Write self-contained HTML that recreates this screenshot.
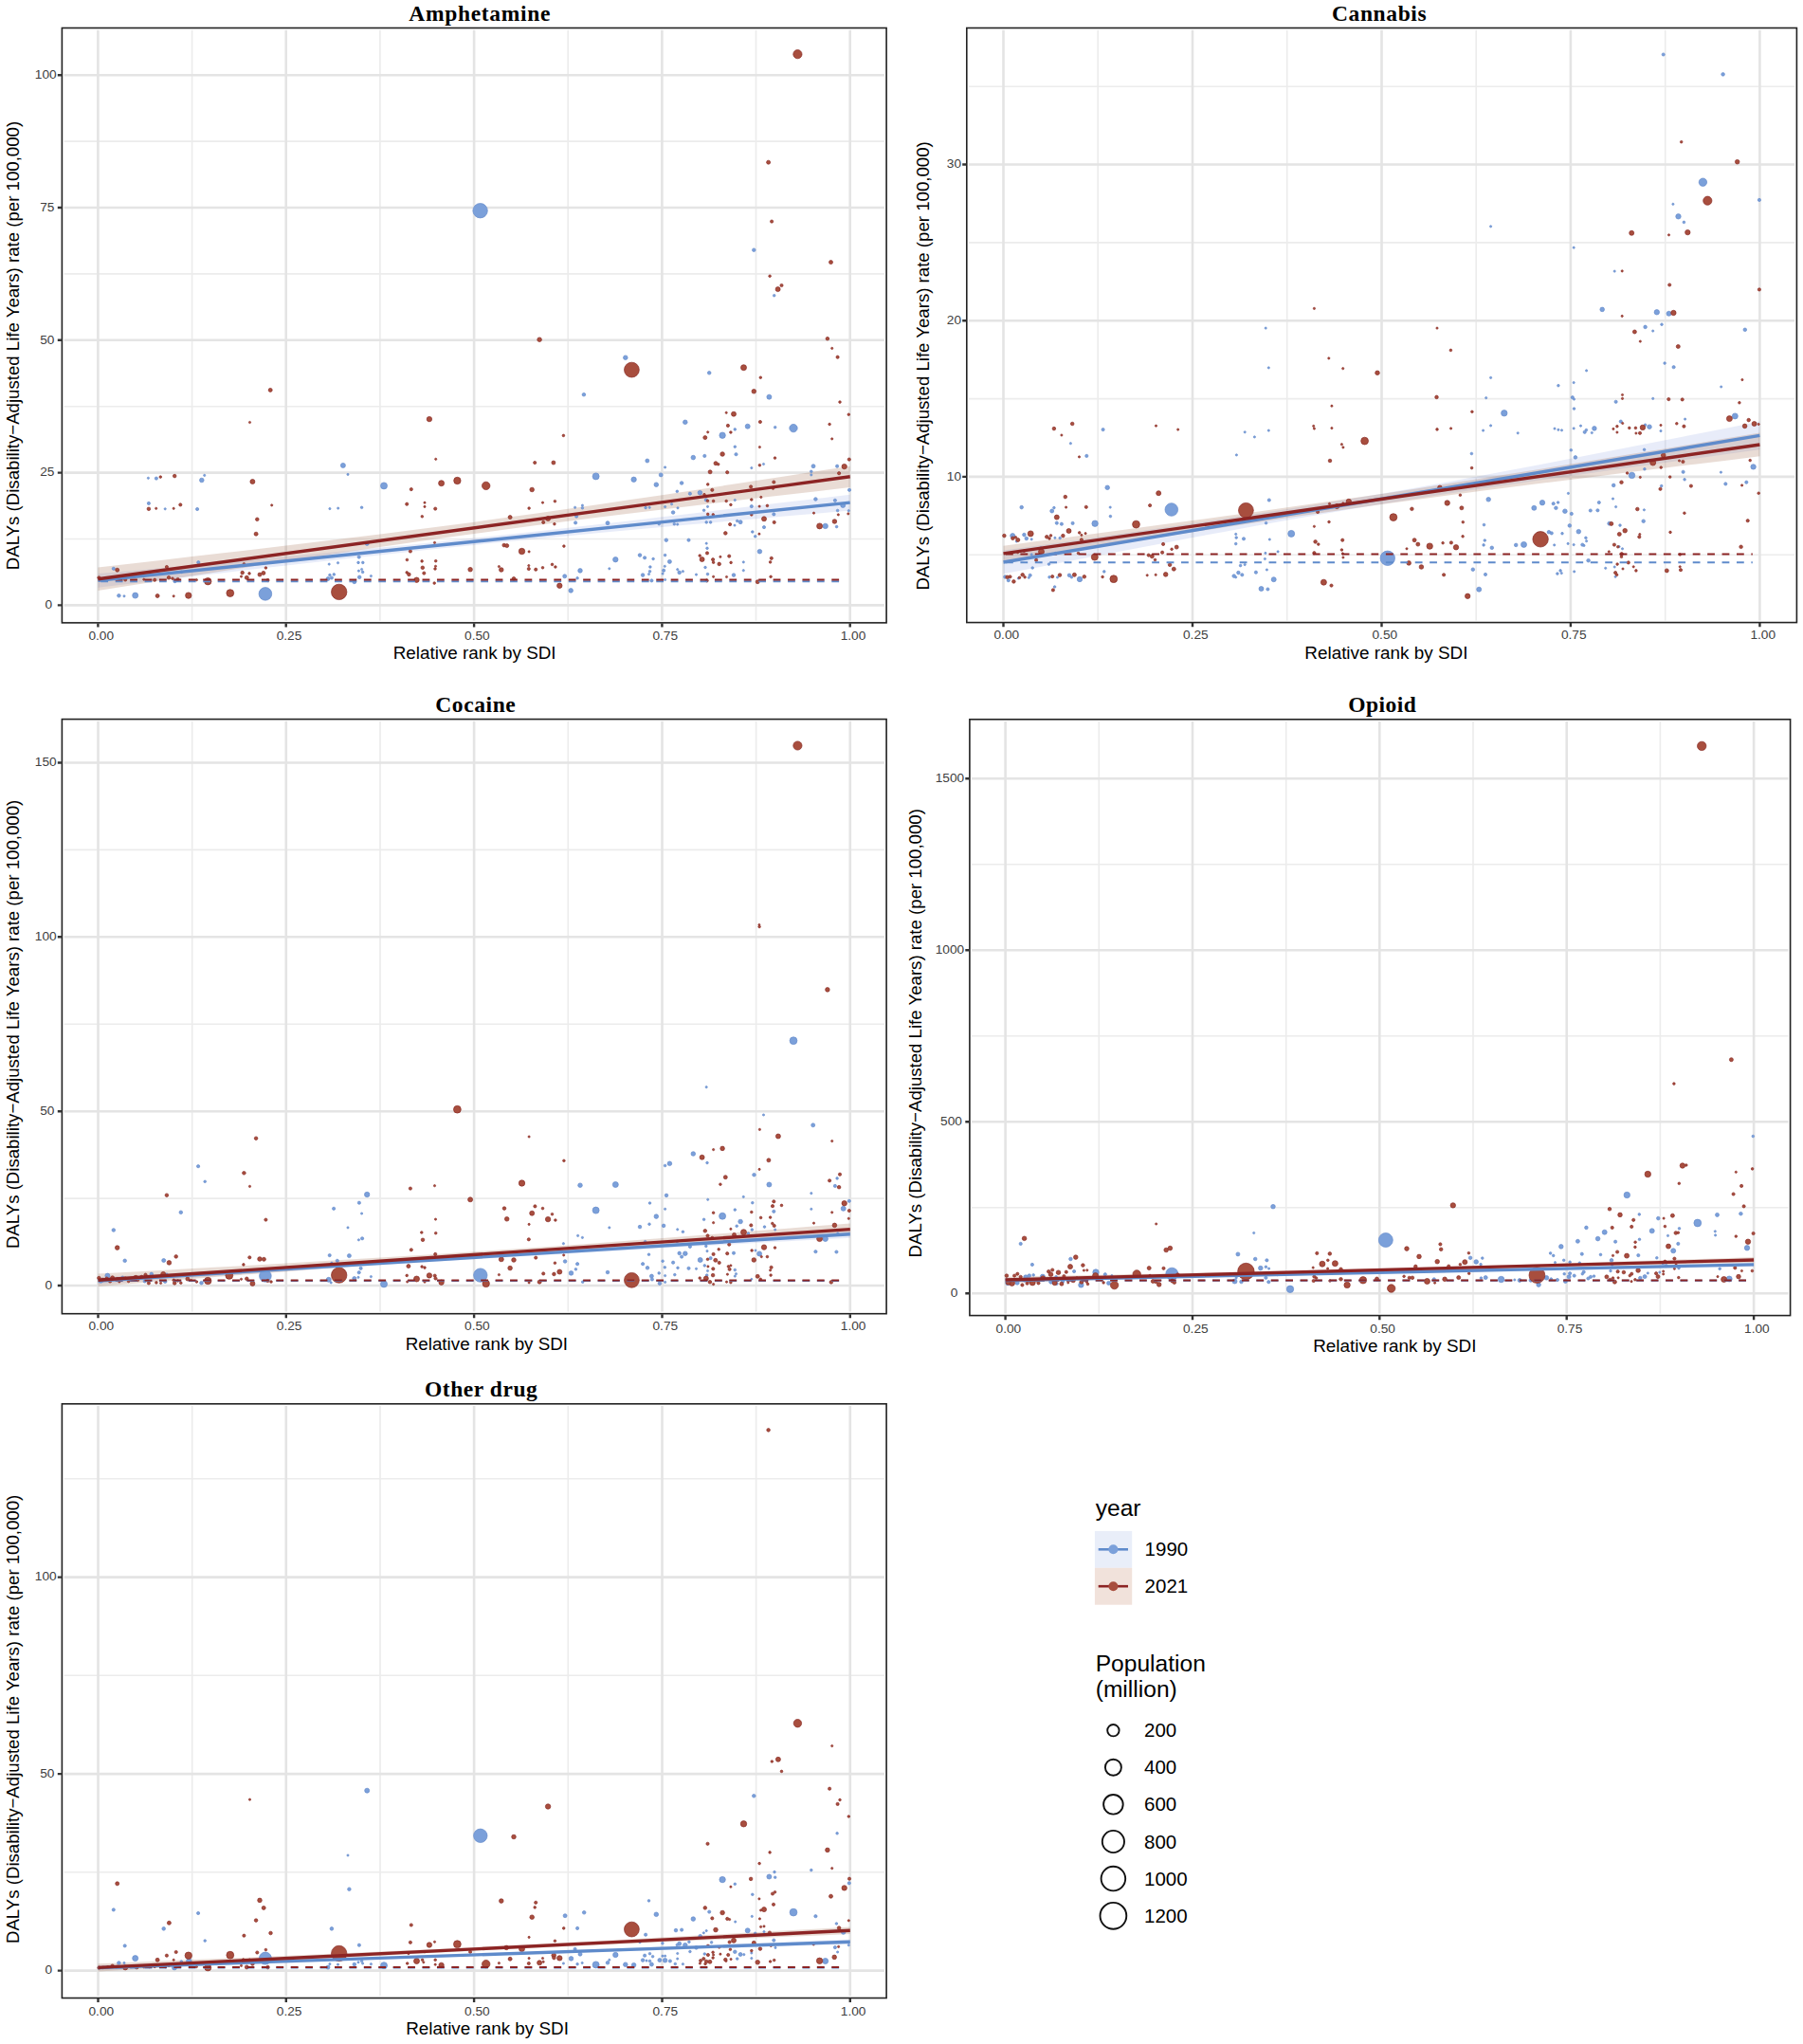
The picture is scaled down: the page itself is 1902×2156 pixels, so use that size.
<!DOCTYPE html>
<html lang="en"><head><meta charset="utf-8"><title>DALYs rate by SDI rank</title>
<style>html,body{margin:0;padding:0;background:#fff}body{width:1902px;height:2156px;overflow:hidden}svg{display:block;font-family:"Liberation Sans",sans-serif}</style>
</head><body>
<svg width="1902" height="2156" viewBox="0 0 1902 2156">
<rect width="1902" height="2156" fill="#fff"/>
<g id="panel1">
<path d="M67.6 568.5H932.9M67.6 428.7H932.9M67.6 288.9H932.9M67.6 149.1H932.9M202.6 31.7V654.7M400.9 31.7V654.7M599.2 31.7V654.7M797.5 31.7V654.7" stroke="#ececec" stroke-width="1.6" fill="none"/>
<path d="M67.6 638.4H932.9M67.6 498.6H932.9M67.6 358.8H932.9M67.6 219H932.9M67.6 79.2H932.9M103.4 31.7V654.7M301.7 31.7V654.7M500.1 31.7V654.7M698.4 31.7V654.7M896.7 31.7V654.7" stroke="#e4e4e4" stroke-width="2.6" fill="none"/>
<path d="M103.4 605.1L136.5 602.2L169.5 599.2L202.6 596.2L235.6 593.2L268.7 590.2L301.7 587.1L334.8 584L367.8 580.9L400.9 577.6L433.9 574.4L467 571L500.1 567.6L533.1 564.1L566.2 560.4L599.2 556.7L632.3 553L665.3 549.2L698.4 545.3L731.4 541.4L764.5 537.5L797.5 533.6L830.6 529.6L863.6 525.7L896.7 521.7L896.7 538.5L863.6 541.4L830.6 544.3L797.5 547.2L764.5 550.1L731.4 553L698.4 556L665.3 559L632.3 562.1L599.2 565.2L566.2 568.3L533.1 571.6L500.1 574.9L467 578.3L433.9 581.8L400.9 585.4L367.8 589.1L334.8 592.8L301.7 596.5L268.7 600.3L235.6 604.2L202.6 608L169.5 611.9L136.5 615.8L103.4 619.7Z" fill="#4d6fd0" fill-opacity="0.13"/>
<path d="M103.4 598.5L136.5 594.7L169.5 590.9L202.6 587.1L235.6 583.3L268.7 579.5L301.7 575.6L334.8 571.6L367.8 567.6L400.9 563.5L433.9 559.3L467 555.1L500.1 550.7L533.1 546.1L566.2 541.5L599.2 536.8L632.3 532L665.3 527.1L698.4 522.2L731.4 517.2L764.5 512.1L797.5 507.1L830.6 502L863.6 496.8L896.7 491.7L896.7 514L863.6 517.9L830.6 521.7L797.5 525.6L764.5 529.5L731.4 533.5L698.4 537.5L665.3 541.5L632.3 545.6L599.2 549.8L566.2 554.1L533.1 558.5L500.1 563L467 567.6L433.9 572.3L400.9 577.1L367.8 582L334.8 587L301.7 592L268.7 597.1L235.6 602.3L202.6 607.4L169.5 612.6L136.5 617.8L103.4 623.1Z" fill="#a0664a" fill-opacity="0.23"/>
<g fill="#7ba0da" stroke="#678dcb" stroke-width="0.7">
<circle cx="361.9" cy="490.9" r="2.5"/>
<circle cx="367" cy="500.4" r="1.1"/>
<circle cx="156.4" cy="504.3" r="1.1"/>
<circle cx="164.9" cy="504.6" r="1.6"/>
<circle cx="215.7" cy="501.4" r="1.1"/>
<circle cx="212.8" cy="506.5" r="2.3"/>
<circle cx="405" cy="512.4" r="3.5"/>
<circle cx="156.9" cy="530.9" r="1.6"/>
<circle cx="174.2" cy="536.8" r="1.1"/>
<circle cx="208.1" cy="537" r="1.6"/>
<circle cx="347.9" cy="536.6" r="1.1"/>
<circle cx="356.7" cy="536.1" r="1.1"/>
<circle cx="381.6" cy="535.3" r="1.3"/>
<circle cx="387.2" cy="573.4" r="2.0"/>
<circle cx="378.7" cy="587.6" r="1.6"/>
<circle cx="209.3" cy="593.2" r="1.6"/>
<circle cx="347.2" cy="595.1" r="1.1"/>
<circle cx="356.5" cy="593.7" r="1.1"/>
<circle cx="378" cy="593.4" r="1.3"/>
<circle cx="382.8" cy="593.4" r="1.3"/>
<circle cx="119.8" cy="599.8" r="1.6"/>
<circle cx="381.6" cy="600.5" r="1.1"/>
<circle cx="378.4" cy="602.2" r="1.1"/>
<circle cx="382.6" cy="603.4" r="1.3"/>
<circle cx="191.3" cy="603.4" r="1.3"/>
<circle cx="347.9" cy="606.6" r="1.3"/>
<circle cx="352.3" cy="605.9" r="1.3"/>
<circle cx="391.4" cy="607.6" r="1.1"/>
<circle cx="379.2" cy="608.8" r="1.8"/>
<circle cx="346" cy="610.5" r="2.0"/>
<circle cx="349.9" cy="609.5" r="1.6"/>
<circle cx="373.8" cy="613.7" r="2.0"/>
<circle cx="184.5" cy="612.9" r="1.8"/>
<circle cx="125.4" cy="628.3" r="1.8"/>
<circle cx="131" cy="628.8" r="1.1"/>
<circle cx="142.7" cy="628.1" r="3.0"/>
<circle cx="279.9" cy="626.4" r="6.8"/>
<circle cx="659.8" cy="377.2" r="2.3"/>
<circle cx="748.2" cy="393.3" r="1.8"/>
<circle cx="615.9" cy="416.2" r="1.8"/>
<circle cx="811.4" cy="418.7" r="2.5"/>
<circle cx="722.8" cy="445.3" r="2.3"/>
<circle cx="788.7" cy="449.7" r="2.5"/>
<circle cx="817.7" cy="450.7" r="1.3"/>
<circle cx="837" cy="451.6" r="4.2"/>
<circle cx="775.3" cy="452.9" r="1.3"/>
<circle cx="762.1" cy="459.2" r="3.2"/>
<circle cx="775.3" cy="471.2" r="1.3"/>
<circle cx="776.5" cy="479.2" r="1.6"/>
<circle cx="743.3" cy="480.9" r="1.6"/>
<circle cx="731.3" cy="482.6" r="2.3"/>
<circle cx="682.8" cy="486" r="2.0"/>
<circle cx="805.5" cy="489.5" r="1.1"/>
<circle cx="701.6" cy="492.9" r="1.1"/>
<circle cx="792.8" cy="493.6" r="1.1"/>
<circle cx="858" cy="491.7" r="2.0"/>
<circle cx="883.1" cy="491.7" r="1.6"/>
<circle cx="855.8" cy="497.3" r="1.3"/>
<circle cx="855.8" cy="500.9" r="1.1"/>
<circle cx="697.2" cy="500.9" r="2.0"/>
<circle cx="628.6" cy="502.4" r="3.5"/>
<circle cx="668.6" cy="505.8" r="2.7"/>
<circle cx="719.1" cy="509.5" r="1.8"/>
<circle cx="692.3" cy="511.2" r="2.3"/>
<circle cx="714.3" cy="518.3" r="1.3"/>
<circle cx="896" cy="516.8" r="1.6"/>
<circle cx="727.9" cy="520.7" r="1.6"/>
<circle cx="738.4" cy="519.7" r="2.3"/>
<circle cx="860.4" cy="526.5" r="1.8"/>
<circle cx="880.9" cy="527.8" r="1.6"/>
<circle cx="744.8" cy="527.3" r="1.6"/>
<circle cx="775.3" cy="527.5" r="1.1"/>
<circle cx="708.6" cy="531.7" r="1.1"/>
<circle cx="792.8" cy="534.1" r="1.6"/>
<circle cx="889.2" cy="532.9" r="2.5"/>
<circle cx="606.6" cy="535.3" r="1.1"/>
<circle cx="614.4" cy="533.1" r="1.1"/>
<circle cx="614.4" cy="535.8" r="1.3"/>
<circle cx="681.1" cy="535.6" r="1.3"/>
<circle cx="685.2" cy="535.3" r="1.1"/>
<circle cx="701.6" cy="534.6" r="1.1"/>
<circle cx="715" cy="535.8" r="1.1"/>
<circle cx="742.6" cy="538.3" r="1.3"/>
<circle cx="746.5" cy="534.4" r="1.1"/>
<circle cx="883.6" cy="538.5" r="1.3"/>
<circle cx="895.3" cy="538.7" r="1.1"/>
<circle cx="710.1" cy="540.5" r="1.8"/>
<circle cx="816.3" cy="542.4" r="1.6"/>
<circle cx="608.1" cy="544.6" r="1.6"/>
<circle cx="607.1" cy="551.4" r="1.6"/>
<circle cx="641" cy="551.7" r="2.0"/>
<circle cx="695.2" cy="552.7" r="1.3"/>
<circle cx="711.3" cy="552.7" r="1.3"/>
<circle cx="714.7" cy="553.1" r="1.1"/>
<circle cx="745.2" cy="550.9" r="1.3"/>
<circle cx="749.6" cy="550.9" r="1.3"/>
<circle cx="777.7" cy="549.5" r="1.3"/>
<circle cx="781.1" cy="550.7" r="2.0"/>
<circle cx="775" cy="554.1" r="1.1"/>
<circle cx="870.7" cy="554.9" r="2.7"/>
<circle cx="882.6" cy="555.6" r="1.3"/>
<circle cx="806" cy="556.1" r="1.6"/>
<circle cx="793.8" cy="561" r="1.3"/>
<circle cx="796.7" cy="565.8" r="1.3"/>
<circle cx="702.8" cy="569.7" r="1.8"/>
<circle cx="726.5" cy="569.7" r="1.6"/>
<circle cx="745.2" cy="573.2" r="1.1"/>
<circle cx="746" cy="578.3" r="1.3"/>
<circle cx="801.4" cy="581.7" r="2.3"/>
<circle cx="675" cy="585.6" r="1.8"/>
<circle cx="701.6" cy="585.6" r="1.3"/>
<circle cx="680.1" cy="588.3" r="1.6"/>
<circle cx="689.1" cy="589.5" r="1.3"/>
<circle cx="649.3" cy="590.2" r="2.7"/>
<circle cx="706.4" cy="592.4" r="2.0"/>
<circle cx="784.3" cy="592.9" r="1.1"/>
<circle cx="685.9" cy="598" r="1.3"/>
<circle cx="701.3" cy="597.3" r="1.1"/>
<circle cx="744" cy="598.5" r="1.3"/>
<circle cx="642.8" cy="599.8" r="1.1"/>
<circle cx="612" cy="601.9" r="2.3"/>
<circle cx="714.7" cy="600.7" r="1.1"/>
<circle cx="700.1" cy="601.7" r="1.6"/>
<circle cx="685.5" cy="602.7" r="1.3"/>
<circle cx="720.4" cy="602.7" r="1.1"/>
<circle cx="716.7" cy="603.9" r="1.8"/>
<circle cx="784.3" cy="601.7" r="1.1"/>
<circle cx="678.1" cy="606.6" r="1.8"/>
<circle cx="684.5" cy="605.6" r="1.1"/>
<circle cx="699.1" cy="605.1" r="1.1"/>
<circle cx="734.5" cy="606.1" r="1.1"/>
<circle cx="746.5" cy="605.6" r="1.3"/>
<circle cx="774" cy="606.6" r="1.8"/>
<circle cx="595.7" cy="607.8" r="2.0"/>
<circle cx="609.1" cy="609.8" r="1.3"/>
<circle cx="687.4" cy="612.4" r="1.6"/>
<circle cx="701.6" cy="611.5" r="1.1"/>
<circle cx="602.2" cy="622.9" r="2.3"/>
<circle cx="506.6" cy="222.2" r="7.7"/>
<circle cx="795.3" cy="263.7" r="1.8"/>
<circle cx="816.7" cy="311.7" r="1.3"/>
</g>
<g fill="#a84e3e" stroke="#8a2d26" stroke-width="0.7">
<circle cx="285.2" cy="411.4" r="2.0"/>
<circle cx="263.5" cy="445.5" r="1.1"/>
<circle cx="452.9" cy="442.1" r="2.7"/>
<circle cx="459.7" cy="484.3" r="1.1"/>
<circle cx="169.3" cy="503.1" r="1.3"/>
<circle cx="184.2" cy="502.1" r="1.8"/>
<circle cx="266.4" cy="508" r="2.5"/>
<circle cx="465.6" cy="509.7" r="3.0"/>
<circle cx="482.4" cy="507" r="3.7"/>
<circle cx="433.8" cy="516.1" r="1.6"/>
<circle cx="156.9" cy="536.8" r="1.8"/>
<circle cx="164.7" cy="536.3" r="1.1"/>
<circle cx="183.2" cy="536.3" r="1.1"/>
<circle cx="190.3" cy="532.4" r="1.6"/>
<circle cx="286.7" cy="532.9" r="1.1"/>
<circle cx="429.2" cy="531.7" r="1.6"/>
<circle cx="448" cy="530.2" r="1.1"/>
<circle cx="448" cy="534.4" r="1.1"/>
<circle cx="459.2" cy="536.6" r="1.6"/>
<circle cx="445.3" cy="544.8" r="1.3"/>
<circle cx="271.3" cy="547.8" r="1.8"/>
<circle cx="270.1" cy="563.2" r="2.0"/>
<circle cx="458.5" cy="572.4" r="1.1"/>
<circle cx="432.9" cy="581.5" r="1.6"/>
<circle cx="429.4" cy="590.5" r="1.3"/>
<circle cx="445.1" cy="591.9" r="1.3"/>
<circle cx="459.7" cy="591.7" r="1.3"/>
<circle cx="257.4" cy="594.9" r="1.3"/>
<circle cx="175.9" cy="598" r="1.6"/>
<circle cx="123.7" cy="601.2" r="2.0"/>
<circle cx="280.4" cy="599" r="1.3"/>
<circle cx="445.8" cy="598.8" r="1.8"/>
<circle cx="459.5" cy="597.3" r="1.1"/>
<circle cx="459" cy="600" r="1.3"/>
<circle cx="496.1" cy="600.7" r="2.3"/>
<circle cx="255.7" cy="604.1" r="1.8"/>
<circle cx="263" cy="604.9" r="1.3"/>
<circle cx="277.9" cy="604.4" r="2.0"/>
<circle cx="274" cy="606.1" r="2.0"/>
<circle cx="429.2" cy="603.9" r="1.3"/>
<circle cx="431.4" cy="605.9" r="1.8"/>
<circle cx="447.3" cy="604.6" r="1.6"/>
<circle cx="254.5" cy="608.1" r="1.1"/>
<circle cx="260.3" cy="609.3" r="2.0"/>
<circle cx="104.4" cy="609.3" r="1.6"/>
<circle cx="118.6" cy="610" r="1.3"/>
<circle cx="132.2" cy="611.5" r="1.6"/>
<circle cx="151.8" cy="611.2" r="1.1"/>
<circle cx="163.2" cy="611.7" r="1.6"/>
<circle cx="178.1" cy="609.3" r="1.8"/>
<circle cx="182" cy="610.2" r="1.3"/>
<circle cx="187.6" cy="611" r="1.6"/>
<circle cx="207.4" cy="611.7" r="1.1"/>
<circle cx="219.3" cy="613.2" r="3.7"/>
<circle cx="282.5" cy="612" r="1.6"/>
<circle cx="439.5" cy="611.7" r="2.7"/>
<circle cx="458.2" cy="615.1" r="1.3"/>
<circle cx="166.1" cy="628.5" r="2.0"/>
<circle cx="183.2" cy="628.8" r="1.1"/>
<circle cx="198.8" cy="628.1" r="3.2"/>
<circle cx="242.8" cy="625.6" r="3.9"/>
<circle cx="357.7" cy="624.4" r="8.2"/>
<circle cx="569.1" cy="358.2" r="2.3"/>
<circle cx="872.9" cy="357.2" r="1.8"/>
<circle cx="877.7" cy="367.4" r="1.1"/>
<circle cx="883.6" cy="376.7" r="1.6"/>
<circle cx="666.4" cy="390.1" r="7.9"/>
<circle cx="784.5" cy="387.7" r="3.0"/>
<circle cx="802.3" cy="398.2" r="1.3"/>
<circle cx="795.3" cy="412.8" r="2.3"/>
<circle cx="886" cy="424.1" r="1.3"/>
<circle cx="766.2" cy="435.3" r="1.1"/>
<circle cx="774" cy="436.7" r="2.5"/>
<circle cx="895.3" cy="437.2" r="1.3"/>
<circle cx="801.9" cy="445" r="1.6"/>
<circle cx="767.9" cy="448.9" r="1.6"/>
<circle cx="875.1" cy="447.5" r="1.3"/>
<circle cx="746.7" cy="455.8" r="1.1"/>
<circle cx="770.9" cy="456" r="1.3"/>
<circle cx="594.4" cy="459.4" r="1.3"/>
<circle cx="743.8" cy="461.6" r="2.0"/>
<circle cx="877.7" cy="462.9" r="1.1"/>
<circle cx="801.4" cy="471.6" r="1.1"/>
<circle cx="762.1" cy="479" r="2.3"/>
<circle cx="817.5" cy="483.1" r="1.3"/>
<circle cx="895.8" cy="484.6" r="1.6"/>
<circle cx="564.2" cy="488" r="1.6"/>
<circle cx="583.9" cy="488" r="2.0"/>
<circle cx="755" cy="488.7" r="2.0"/>
<circle cx="757.7" cy="489.7" r="1.3"/>
<circle cx="801.4" cy="490.7" r="1.3"/>
<circle cx="890.7" cy="492.1" r="2.7"/>
<circle cx="885.1" cy="499.2" r="1.6"/>
<circle cx="749.1" cy="497.8" r="2.0"/>
<circle cx="767.2" cy="498.2" r="1.6"/>
<circle cx="816.3" cy="508.5" r="1.6"/>
<circle cx="746.7" cy="510.9" r="1.3"/>
<circle cx="512.7" cy="512.4" r="4.2"/>
<circle cx="561.2" cy="516.5" r="2.3"/>
<circle cx="751.3" cy="516.8" r="1.6"/>
<circle cx="792.1" cy="513.4" r="1.6"/>
<circle cx="815.5" cy="515.1" r="1.3"/>
<circle cx="743" cy="521.7" r="1.3"/>
<circle cx="802.8" cy="524.4" r="1.1"/>
<circle cx="792.8" cy="527" r="1.3"/>
<circle cx="746.5" cy="528.3" r="1.3"/>
<circle cx="752.6" cy="528.5" r="1.3"/>
<circle cx="766.2" cy="528.5" r="1.3"/>
<circle cx="572.5" cy="530.2" r="1.1"/>
<circle cx="585.4" cy="528.7" r="1.3"/>
<circle cx="770.9" cy="532.4" r="1.3"/>
<circle cx="809.4" cy="533.4" r="1.3"/>
<circle cx="801.1" cy="534.1" r="1.1"/>
<circle cx="558.1" cy="536.1" r="1.3"/>
<circle cx="746.7" cy="542.4" r="1.3"/>
<circle cx="752.3" cy="542.9" r="1.3"/>
<circle cx="792.8" cy="542.9" r="1.3"/>
<circle cx="858.5" cy="541.2" r="1.1"/>
<circle cx="884.3" cy="542.9" r="1.1"/>
<circle cx="894.8" cy="541.9" r="1.1"/>
<circle cx="538.1" cy="545.6" r="2.0"/>
<circle cx="578.1" cy="547" r="2.5"/>
<circle cx="573.2" cy="550.9" r="1.6"/>
<circle cx="584.9" cy="552.7" r="1.3"/>
<circle cx="806" cy="547.3" r="2.5"/>
<circle cx="816.7" cy="550.9" r="1.6"/>
<circle cx="770.1" cy="553.1" r="1.6"/>
<circle cx="880.4" cy="550" r="2.3"/>
<circle cx="864.6" cy="554.9" r="3.0"/>
<circle cx="765.3" cy="562.4" r="1.8"/>
<circle cx="800.9" cy="563.2" r="1.1"/>
<circle cx="531.7" cy="575.1" r="1.8"/>
<circle cx="534.7" cy="575.6" r="2.0"/>
<circle cx="594.9" cy="576.1" r="1.3"/>
<circle cx="550.5" cy="581.5" r="3.2"/>
<circle cx="558.1" cy="581.9" r="1.1"/>
<circle cx="746" cy="583.4" r="1.6"/>
<circle cx="738.2" cy="586.1" r="1.3"/>
<circle cx="759.9" cy="587.3" r="1.1"/>
<circle cx="769.2" cy="586.6" r="1.6"/>
<circle cx="740.6" cy="590" r="2.5"/>
<circle cx="752.1" cy="590.2" r="1.6"/>
<circle cx="813.8" cy="588.8" r="1.6"/>
<circle cx="752.6" cy="593.2" r="1.3"/>
<circle cx="758.7" cy="594.9" r="1.8"/>
<circle cx="771.1" cy="593.4" r="1.3"/>
<circle cx="812.6" cy="592.9" r="1.3"/>
<circle cx="582.5" cy="595.4" r="1.3"/>
<circle cx="526.4" cy="597.6" r="1.1"/>
<circle cx="557.8" cy="596.6" r="1.1"/>
<circle cx="585.9" cy="598" r="1.3"/>
<circle cx="572.5" cy="598.8" r="1.3"/>
<circle cx="528.8" cy="601" r="2.3"/>
<circle cx="557.8" cy="600" r="1.6"/>
<circle cx="565.2" cy="600.7" r="1.6"/>
<circle cx="752.6" cy="608.3" r="1.1"/>
<circle cx="766.5" cy="608.5" r="1.1"/>
<circle cx="813.1" cy="608.3" r="1.3"/>
<circle cx="542" cy="610.5" r="2.0"/>
<circle cx="745.7" cy="612.4" r="1.6"/>
<circle cx="799.2" cy="613.7" r="2.0"/>
<circle cx="590.3" cy="617.8" r="2.7"/>
<circle cx="841.4" cy="57.2" r="4.6"/>
<circle cx="810.6" cy="171.2" r="2.0"/>
<circle cx="814.1" cy="233.6" r="1.6"/>
<circle cx="876.5" cy="276.6" r="2.0"/>
<circle cx="812.1" cy="291.2" r="1.3"/>
<circle cx="824.5" cy="301" r="1.6"/>
<circle cx="820.6" cy="305.1" r="2.5"/>
</g>
<path d="M885.1 613.2H103.4" stroke="#5f8bcb" stroke-width="2" stroke-dasharray="7.8 7.62" stroke-dashoffset="0" fill="none"/>
<path d="M885.1 611.6H103.4" stroke="#8c2424" stroke-width="2" stroke-dasharray="7.8 7.62" stroke-dashoffset="0" fill="none"/>
<path d="M103.4 612.4L896.7 530.1" stroke="#5f8bcb" stroke-width="3.4" fill="none"/>
<path d="M103.4 610.8L896.7 502.8" stroke="#8c2424" stroke-width="3.4" fill="none"/>
<rect x="65.4" y="29.5" width="869.7" height="627.4" fill="none" stroke="#222" stroke-width="1.6"/>
<path d="M60.8 638.4H64.9M60.8 498.6H64.9M60.8 358.8H64.9M60.8 219H64.9M60.8 79.2H64.9M103.4 657.4V661.5M301.7 657.4V661.5M500.1 657.4V661.5M698.4 657.4V661.5M896.7 657.4V661.5" stroke="#333" stroke-width="2.4" fill="none"/>
<g font-size="13.7" fill="#404040">
<text x="55.1" y="642.2" text-anchor="end">0</text>
<text x="57.4" y="502.4" text-anchor="end">25</text>
<text x="57.4" y="362.6" text-anchor="end">50</text>
<text x="57.4" y="222.8" text-anchor="end">75</text>
<text x="59.7" y="83" text-anchor="end">100</text>
<text x="106.7" y="675.3" text-anchor="middle">0.00</text>
<text x="305" y="675.3" text-anchor="middle">0.25</text>
<text x="503.4" y="675.3" text-anchor="middle">0.50</text>
<text x="701.7" y="675.3" text-anchor="middle">0.75</text>
<text x="900" y="675.3" text-anchor="middle">1.00</text>
</g>
<text x="431.3" y="22.1" font-family="'Liberation Serif', serif" font-weight="bold" font-size="23.5" textLength="149.1" lengthAdjust="spacing" fill="#000">Amphetamine</text>
<text x="414.7" y="694.6" font-size="18.3" textLength="171.9" lengthAdjust="spacingAndGlyphs" fill="#000">Relative rank by SDI</text>
<text transform="translate(20 601.2) rotate(-90)" font-size="18.3" textLength="473.3" lengthAdjust="spacingAndGlyphs" fill="#000">DALYs (Disability−Adjusted Life Years) rate (per 100,000)</text>
</g>
<g id="panel2">
<path d="M1022 585.2H1893.2M1022 420.6H1893.2M1022 255.9H1893.2M1022 91.2H1893.2M1158.2 31.7V654.4M1357.7 31.7V654.4M1557.2 31.7V654.4M1756.7 31.7V654.4" stroke="#ececec" stroke-width="1.6" fill="none"/>
<path d="M1022 502.9H1893.2M1022 338.2H1893.2M1022 173.5H1893.2M1058.5 31.7V654.4M1258 31.7V654.4M1457.5 31.7V654.4M1656.9 31.7V654.4M1856.4 31.7V654.4" stroke="#e4e4e4" stroke-width="2.6" fill="none"/>
<path d="M1058.5 580.6L1091.7 575.9L1125 571.2L1158.2 566.5L1191.5 561.7L1224.7 556.9L1258 552.1L1291.2 547.1L1324.5 542.1L1357.7 537L1391 531.7L1424.2 526.3L1457.5 520.7L1490.7 514.9L1523.9 508.9L1557.2 502.8L1590.4 496.5L1623.7 490.2L1656.9 483.7L1690.2 477.3L1723.4 470.8L1756.7 464.3L1789.9 457.7L1823.2 451.2L1856.4 444.6L1856.4 474.2L1823.2 478.8L1789.9 483.4L1756.7 488L1723.4 492.6L1690.2 497.2L1656.9 501.9L1623.7 506.6L1590.4 511.4L1557.2 516.2L1523.9 521.2L1490.7 526.4L1457.5 531.7L1424.2 537.2L1391 542.9L1357.7 548.8L1324.5 554.8L1291.2 560.9L1258 567.1L1224.7 573.4L1191.5 579.7L1158.2 586.1L1125 592.5L1091.7 598.9L1058.5 605.3Z" fill="#4d6fd0" fill-opacity="0.13"/>
<path d="M1058.5 575.7L1091.7 571.3L1125 567L1158.2 562.6L1191.5 558.1L1224.7 553.6L1258 549.1L1291.2 544.6L1324.5 540L1357.7 535.3L1391 530.6L1424.2 525.8L1457.5 520.9L1490.7 515.9L1523.9 510.7L1557.2 505.5L1590.4 500.2L1623.7 494.9L1656.9 489.5L1690.2 484.1L1723.4 478.6L1756.7 473.2L1789.9 467.7L1823.2 462.1L1856.4 456.6L1856.4 481.3L1823.2 485.4L1789.9 489.4L1756.7 493.5L1723.4 497.6L1690.2 501.8L1656.9 505.9L1623.7 510.1L1590.4 514.3L1557.2 518.6L1523.9 523L1490.7 527.5L1457.5 532L1424.2 536.7L1391 541.5L1357.7 546.3L1324.5 551.3L1291.2 556.2L1258 561.2L1224.7 566.3L1191.5 571.4L1158.2 576.6L1125 581.7L1091.7 586.9L1058.5 592.2Z" fill="#a0664a" fill-opacity="0.23"/>
<g fill="#7ba0da" stroke="#678dcb" stroke-width="0.7">
<circle cx="1338.3" cy="387.9" r="1.1"/>
<circle cx="1163.6" cy="453.1" r="1.6"/>
<circle cx="1313.2" cy="455.8" r="1.1"/>
<circle cx="1338.3" cy="454.1" r="1.1"/>
<circle cx="1323.4" cy="460.9" r="1.1"/>
<circle cx="1129.4" cy="467.7" r="1.1"/>
<circle cx="1146.3" cy="480.9" r="1.6"/>
<circle cx="1304.4" cy="479.9" r="1.1"/>
<circle cx="1168.2" cy="514.3" r="2.3"/>
<circle cx="1338.8" cy="527.5" r="1.6"/>
<circle cx="1077.7" cy="535.1" r="1.8"/>
<circle cx="1111.9" cy="535.6" r="1.3"/>
<circle cx="1171.2" cy="535.1" r="1.1"/>
<circle cx="1235.8" cy="537.5" r="6.8"/>
<circle cx="1109.7" cy="539" r="2.0"/>
<circle cx="1171.4" cy="544.6" r="1.3"/>
<circle cx="1114.8" cy="551.7" r="1.6"/>
<circle cx="1119.9" cy="552.7" r="1.6"/>
<circle cx="1131.6" cy="551.9" r="1.6"/>
<circle cx="1155.1" cy="552.2" r="3.2"/>
<circle cx="1335.6" cy="551.7" r="1.3"/>
<circle cx="1080.4" cy="564.1" r="1.8"/>
<circle cx="1068.2" cy="565.1" r="2.5"/>
<circle cx="1112.9" cy="567.3" r="1.1"/>
<circle cx="1118.2" cy="567.5" r="1.3"/>
<circle cx="1082.8" cy="568" r="1.8"/>
<circle cx="1088.2" cy="568.8" r="1.1"/>
<circle cx="1072.3" cy="571" r="1.1"/>
<circle cx="1303.7" cy="563.4" r="1.1"/>
<circle cx="1304.2" cy="567.1" r="1.3"/>
<circle cx="1312" cy="568.3" r="1.6"/>
<circle cx="1339.3" cy="569" r="1.1"/>
<circle cx="1303.7" cy="573.6" r="1.3"/>
<circle cx="1362.2" cy="562.9" r="3.5"/>
<circle cx="1098" cy="578.3" r="1.6"/>
<circle cx="1088.2" cy="584.9" r="1.1"/>
<circle cx="1113.6" cy="583.6" r="1.3"/>
<circle cx="1106.5" cy="595.1" r="1.3"/>
<circle cx="1089.2" cy="599" r="1.3"/>
<circle cx="1334.9" cy="583.4" r="1.1"/>
<circle cx="1348.1" cy="581.9" r="1.1"/>
<circle cx="1334.4" cy="589.5" r="1.1"/>
<circle cx="1308.6" cy="596.6" r="1.3"/>
<circle cx="1313.2" cy="595.6" r="1.1"/>
<circle cx="1336.4" cy="601" r="1.1"/>
<circle cx="1164.8" cy="602.9" r="1.3"/>
<circle cx="1306.4" cy="604.1" r="1.8"/>
<circle cx="1301.7" cy="607.6" r="1.8"/>
<circle cx="1310.3" cy="606.3" r="1.6"/>
<circle cx="1303.7" cy="608.8" r="1.1"/>
<circle cx="1324.9" cy="603.7" r="1.6"/>
<circle cx="1343.7" cy="611.2" r="2.5"/>
<circle cx="1139" cy="611" r="2.7"/>
<circle cx="1128" cy="606.8" r="1.8"/>
<circle cx="1130.4" cy="608.8" r="1.3"/>
<circle cx="1115.5" cy="609" r="1.1"/>
<circle cx="1107" cy="608.8" r="1.3"/>
<circle cx="1086.7" cy="606.8" r="1.6"/>
<circle cx="1085.3" cy="609.3" r="1.1"/>
<circle cx="1074.3" cy="610" r="1.1"/>
<circle cx="1060.4" cy="608.5" r="1.8"/>
<circle cx="1063.8" cy="612.2" r="1.6"/>
<circle cx="1112.6" cy="619" r="1.3"/>
<circle cx="1330.5" cy="621" r="2.5"/>
<circle cx="1337.4" cy="621.5" r="1.6"/>
<circle cx="1756.1" cy="383.1" r="1.3"/>
<circle cx="1765.6" cy="387.2" r="1.6"/>
<circle cx="1673.6" cy="390.9" r="1.1"/>
<circle cx="1572.6" cy="398.4" r="1.1"/>
<circle cx="1660.2" cy="403.6" r="1.1"/>
<circle cx="1643.9" cy="406.7" r="1.3"/>
<circle cx="1815.7" cy="408" r="1.1"/>
<circle cx="1567.7" cy="419.7" r="1.1"/>
<circle cx="1658.8" cy="419.2" r="1.6"/>
<circle cx="1660.5" cy="421.1" r="1.1"/>
<circle cx="1743.7" cy="420.4" r="1.1"/>
<circle cx="1704.6" cy="423.8" r="1.6"/>
<circle cx="1660.5" cy="431.1" r="1.3"/>
<circle cx="1586.8" cy="435.8" r="3.2"/>
<circle cx="1830.3" cy="438.9" r="3.0"/>
<circle cx="1777.6" cy="442.1" r="1.1"/>
<circle cx="1709.8" cy="444.6" r="1.6"/>
<circle cx="1735.6" cy="448.2" r="1.3"/>
<circle cx="1572.6" cy="448.9" r="1.1"/>
<circle cx="1667.5" cy="449.2" r="1.1"/>
<circle cx="1740" cy="450.2" r="2.3"/>
<circle cx="1681.9" cy="451.9" r="2.3"/>
<circle cx="1640" cy="452.1" r="1.1"/>
<circle cx="1643.9" cy="453.3" r="1.1"/>
<circle cx="1647.5" cy="453.8" r="1.1"/>
<circle cx="1660.2" cy="451.9" r="1.1"/>
<circle cx="1673.4" cy="453.6" r="1.3"/>
<circle cx="1671.7" cy="455.8" r="1.6"/>
<circle cx="1679.3" cy="456.5" r="1.1"/>
<circle cx="1564.6" cy="454.1" r="1.1"/>
<circle cx="1752" cy="454.6" r="1.1"/>
<circle cx="1601.2" cy="456.8" r="1.1"/>
<circle cx="1734.6" cy="474.3" r="1.3"/>
<circle cx="1657.3" cy="474.8" r="1.3"/>
<circle cx="1552.4" cy="478.5" r="1.3"/>
<circle cx="1661.9" cy="482.4" r="1.8"/>
<circle cx="1849.6" cy="492.4" r="2.7"/>
<circle cx="1734.9" cy="494.8" r="1.3"/>
<circle cx="1775.6" cy="497.8" r="1.6"/>
<circle cx="1815.4" cy="498.2" r="1.1"/>
<circle cx="1721.5" cy="501.4" r="3.2"/>
<circle cx="1777.1" cy="505.8" r="1.3"/>
<circle cx="1842.3" cy="508.7" r="1.6"/>
<circle cx="1820.3" cy="510.4" r="1.6"/>
<circle cx="1702.2" cy="511.9" r="1.8"/>
<circle cx="1752.7" cy="512.6" r="1.3"/>
<circle cx="1654.4" cy="520.4" r="1.1"/>
<circle cx="1701.5" cy="526.1" r="1.1"/>
<circle cx="1570.2" cy="526.8" r="2.3"/>
<circle cx="1627" cy="530.2" r="2.7"/>
<circle cx="1643.6" cy="530" r="1.3"/>
<circle cx="1638.7" cy="531.2" r="1.6"/>
<circle cx="1686.8" cy="530" r="1.6"/>
<circle cx="1618.3" cy="535.8" r="2.5"/>
<circle cx="1641.4" cy="535.8" r="1.8"/>
<circle cx="1704.6" cy="534.6" r="1.1"/>
<circle cx="1734.4" cy="537.8" r="1.1"/>
<circle cx="1650.9" cy="539.2" r="2.3"/>
<circle cx="1677.8" cy="538.5" r="1.6"/>
<circle cx="1685.4" cy="538.3" r="1.6"/>
<circle cx="1657.8" cy="541.9" r="1.6"/>
<circle cx="1733.7" cy="549.7" r="1.8"/>
<circle cx="1697.8" cy="552.2" r="2.0"/>
<circle cx="1565.5" cy="553.6" r="1.3"/>
<circle cx="1655.8" cy="554.4" r="1.8"/>
<circle cx="1709" cy="554.1" r="1.3"/>
<circle cx="1665.3" cy="560.7" r="2.3"/>
<circle cx="1633.9" cy="561.2" r="1.8"/>
<circle cx="1636.8" cy="562.4" r="1.6"/>
<circle cx="1648" cy="562.7" r="1.3"/>
<circle cx="1672.9" cy="567.3" r="1.3"/>
<circle cx="1566.3" cy="570" r="1.3"/>
<circle cx="1673.6" cy="570.7" r="1.1"/>
<circle cx="1599.2" cy="574.9" r="1.8"/>
<circle cx="1607.5" cy="574.4" r="3.0"/>
<circle cx="1565.1" cy="574.9" r="1.3"/>
<circle cx="1639.7" cy="574.9" r="1.1"/>
<circle cx="1654.1" cy="573.4" r="1.1"/>
<circle cx="1660.2" cy="574.6" r="1.1"/>
<circle cx="1669.3" cy="574.6" r="1.6"/>
<circle cx="1671" cy="575.4" r="1.1"/>
<circle cx="1708.1" cy="576.6" r="1.1"/>
<circle cx="1711.5" cy="578.8" r="1.1"/>
<circle cx="1573.8" cy="577.8" r="1.8"/>
<circle cx="1463.8" cy="588.8" r="7.7"/>
<circle cx="1675.6" cy="591.2" r="1.8"/>
<circle cx="1703.2" cy="598" r="1.1"/>
<circle cx="1693.7" cy="599.3" r="1.1"/>
<circle cx="1553.8" cy="600.7" r="1.8"/>
<circle cx="1646.1" cy="601.9" r="1.3"/>
<circle cx="1660.7" cy="602.9" r="1.1"/>
<circle cx="1642.9" cy="605.1" r="1.3"/>
<circle cx="1647.3" cy="604.6" r="1.1"/>
<circle cx="1704.1" cy="608.3" r="1.1"/>
<circle cx="1567" cy="605.9" r="1.6"/>
<circle cx="1560.2" cy="621.7" r="2.5"/>
<circle cx="1754.7" cy="57.5" r="1.6"/>
<circle cx="1817.6" cy="78.4" r="1.8"/>
<circle cx="1796.4" cy="192.2" r="4.2"/>
<circle cx="1855.9" cy="210.9" r="1.6"/>
<circle cx="1764.9" cy="215.3" r="1.1"/>
<circle cx="1770.5" cy="228.3" r="2.7"/>
<circle cx="1776.4" cy="234.4" r="1.3"/>
<circle cx="1572.6" cy="238.8" r="1.1"/>
<circle cx="1660.2" cy="261.2" r="1.1"/>
<circle cx="1703.2" cy="286.1" r="1.1"/>
<circle cx="1690.2" cy="326.4" r="2.3"/>
<circle cx="1747.8" cy="329.3" r="2.7"/>
<circle cx="1760.5" cy="330.8" r="2.5"/>
<circle cx="1753" cy="342.2" r="1.3"/>
<circle cx="1735.6" cy="344.9" r="1.8"/>
<circle cx="1840.8" cy="347.8" r="1.8"/>
<circle cx="1743.7" cy="349.1" r="1.1"/>
<circle cx="1335.2" cy="346.1" r="1.1"/>
</g>
<g fill="#a84e3e" stroke="#8a2d26" stroke-width="0.7">
<circle cx="1401.8" cy="377.9" r="1.1"/>
<circle cx="1416.7" cy="388.7" r="1.1"/>
<circle cx="1453" cy="393.3" r="2.3"/>
<circle cx="1404.9" cy="428.2" r="1.1"/>
<circle cx="1131.2" cy="447" r="1.8"/>
<circle cx="1111.9" cy="452.1" r="1.8"/>
<circle cx="1219.5" cy="449.2" r="1.1"/>
<circle cx="1242.7" cy="453.1" r="1.1"/>
<circle cx="1119.9" cy="459" r="1.1"/>
<circle cx="1385.7" cy="449.4" r="1.1"/>
<circle cx="1386.4" cy="452.1" r="1.1"/>
<circle cx="1404.9" cy="451.6" r="1.1"/>
<circle cx="1439.6" cy="465.1" r="3.9"/>
<circle cx="1415.4" cy="468.7" r="1.1"/>
<circle cx="1416.9" cy="471.9" r="1.1"/>
<circle cx="1138.5" cy="481.9" r="1.1"/>
<circle cx="1403" cy="486" r="1.8"/>
<circle cx="1222.2" cy="520.2" r="2.5"/>
<circle cx="1123.8" cy="524.1" r="1.8"/>
<circle cx="1422.8" cy="529" r="2.7"/>
<circle cx="1402.5" cy="531.4" r="1.1"/>
<circle cx="1416.9" cy="530.9" r="1.1"/>
<circle cx="1410.3" cy="534.1" r="2.5"/>
<circle cx="1124.6" cy="535.1" r="1.1"/>
<circle cx="1145.8" cy="534.8" r="1.6"/>
<circle cx="1213.1" cy="533.1" r="1.6"/>
<circle cx="1314.4" cy="538.3" r="7.9"/>
<circle cx="1390.1" cy="540" r="1.6"/>
<circle cx="1114.8" cy="545.6" r="2.5"/>
<circle cx="1198.5" cy="553.1" r="3.9"/>
<circle cx="1402" cy="550.5" r="1.3"/>
<circle cx="1386.4" cy="555.3" r="1.1"/>
<circle cx="1127.5" cy="560" r="2.5"/>
<circle cx="1087.2" cy="562.9" r="3.0"/>
<circle cx="1059.4" cy="565.1" r="1.8"/>
<circle cx="1138.7" cy="561.9" r="1.3"/>
<circle cx="1145.1" cy="562.7" r="1.1"/>
<circle cx="1140.9" cy="564.4" r="1.1"/>
<circle cx="1108.5" cy="564.9" r="1.3"/>
<circle cx="1121.4" cy="565.1" r="1.8"/>
<circle cx="1104.3" cy="566.3" r="1.8"/>
<circle cx="1107" cy="568" r="1.3"/>
<circle cx="1068.4" cy="567.8" r="1.8"/>
<circle cx="1071.4" cy="566.8" r="1.3"/>
<circle cx="1073.8" cy="569.5" r="2.0"/>
<circle cx="1140.9" cy="569.3" r="1.6"/>
<circle cx="1416.2" cy="569.7" r="1.6"/>
<circle cx="1387.6" cy="571.4" r="1.8"/>
<circle cx="1390.8" cy="574.1" r="1.3"/>
<circle cx="1227.1" cy="573.9" r="1.6"/>
<circle cx="1241.2" cy="577.1" r="2.0"/>
<circle cx="1236.1" cy="579.3" r="1.3"/>
<circle cx="1226.1" cy="582.7" r="1.6"/>
<circle cx="1098.5" cy="581.9" r="3.0"/>
<circle cx="1080.4" cy="581.2" r="1.3"/>
<circle cx="1073.6" cy="582.7" r="1.1"/>
<circle cx="1137.5" cy="583.6" r="1.3"/>
<circle cx="1211.7" cy="585.6" r="1.6"/>
<circle cx="1215.3" cy="586.8" r="2.0"/>
<circle cx="1218.5" cy="590.5" r="1.3"/>
<circle cx="1154.8" cy="587.6" r="3.5"/>
<circle cx="1093.1" cy="590.7" r="1.6"/>
<circle cx="1386.4" cy="583.2" r="1.6"/>
<circle cx="1415.4" cy="580" r="1.3"/>
<circle cx="1416.4" cy="583.9" r="1.1"/>
<circle cx="1416.9" cy="588" r="1.1"/>
<circle cx="1234.1" cy="595.8" r="1.8"/>
<circle cx="1238.3" cy="600.2" r="2.0"/>
<circle cx="1229.7" cy="605.9" r="2.3"/>
<circle cx="1219.2" cy="606.3" r="1.1"/>
<circle cx="1210.2" cy="606.8" r="1.1"/>
<circle cx="1174.8" cy="610.7" r="3.9"/>
<circle cx="1163.1" cy="608.5" r="1.3"/>
<circle cx="1143.8" cy="608.3" r="1.8"/>
<circle cx="1133.4" cy="606.3" r="2.0"/>
<circle cx="1118" cy="606.6" r="1.8"/>
<circle cx="1110.2" cy="608.1" r="1.6"/>
<circle cx="1078.7" cy="606.3" r="1.8"/>
<circle cx="1081.1" cy="608.8" r="1.3"/>
<circle cx="1075.5" cy="609.3" r="1.3"/>
<circle cx="1065.5" cy="608.3" r="1.6"/>
<circle cx="1062.6" cy="608.8" r="1.8"/>
<circle cx="1069.4" cy="613.4" r="1.8"/>
<circle cx="1110.9" cy="622.4" r="1.6"/>
<circle cx="1396.4" cy="614.2" r="3.0"/>
<circle cx="1404.5" cy="617.6" r="1.6"/>
<circle cx="1730.3" cy="360.1" r="1.1"/>
<circle cx="1770.3" cy="365.5" r="2.0"/>
<circle cx="1530.4" cy="369.4" r="1.3"/>
<circle cx="1837.9" cy="400.6" r="1.1"/>
<circle cx="1711.5" cy="416.5" r="1.1"/>
<circle cx="1515.5" cy="418.9" r="1.8"/>
<circle cx="1711.5" cy="420.4" r="1.1"/>
<circle cx="1760.3" cy="421.1" r="1.6"/>
<circle cx="1774.7" cy="421.4" r="1.6"/>
<circle cx="1834.9" cy="424.8" r="1.3"/>
<circle cx="1552.9" cy="434.3" r="1.3"/>
<circle cx="1824.4" cy="441.6" r="3.0"/>
<circle cx="1844.7" cy="443.1" r="1.8"/>
<circle cx="1711.7" cy="446.5" r="1.1"/>
<circle cx="1768.8" cy="446.8" r="1.3"/>
<circle cx="1850.6" cy="447" r="2.5"/>
<circle cx="1855.2" cy="447.5" r="1.1"/>
<circle cx="1752" cy="448.5" r="1.1"/>
<circle cx="1840.6" cy="449.4" r="2.3"/>
<circle cx="1705.9" cy="449.7" r="1.3"/>
<circle cx="1776.4" cy="449.7" r="1.6"/>
<circle cx="1732.9" cy="450.9" r="2.7"/>
<circle cx="1718.8" cy="451.4" r="1.3"/>
<circle cx="1725.4" cy="451.4" r="1.3"/>
<circle cx="1516" cy="452.9" r="1.3"/>
<circle cx="1530.6" cy="451.9" r="1.1"/>
<circle cx="1701.9" cy="452.4" r="1.1"/>
<circle cx="1705.9" cy="456" r="1.1"/>
<circle cx="1725.9" cy="457" r="1.1"/>
<circle cx="1730" cy="456.8" r="1.6"/>
<circle cx="1754.7" cy="480.2" r="2.3"/>
<circle cx="1771.5" cy="486" r="1.1"/>
<circle cx="1775.4" cy="487" r="1.6"/>
<circle cx="1846.2" cy="485.6" r="1.3"/>
<circle cx="1743.7" cy="488" r="3.0"/>
<circle cx="1552.6" cy="493.6" r="1.3"/>
<circle cx="1752.2" cy="493.1" r="1.3"/>
<circle cx="1716.6" cy="499" r="1.3"/>
<circle cx="1730.3" cy="503.4" r="1.1"/>
<circle cx="1761.7" cy="503.1" r="1.3"/>
<circle cx="1710.5" cy="508.7" r="1.8"/>
<circle cx="1783.9" cy="512.6" r="1.6"/>
<circle cx="1837.6" cy="511.9" r="1.1"/>
<circle cx="1751.5" cy="515.8" r="1.6"/>
<circle cx="1518.9" cy="514.3" r="2.3"/>
<circle cx="1855.2" cy="520.2" r="1.3"/>
<circle cx="1540.4" cy="522.2" r="1.3"/>
<circle cx="1526.7" cy="530.5" r="2.7"/>
<circle cx="1489.4" cy="536.8" r="1.8"/>
<circle cx="1541.9" cy="535.8" r="2.0"/>
<circle cx="1727.3" cy="537" r="1.8"/>
<circle cx="1776.9" cy="541.2" r="1.3"/>
<circle cx="1469.9" cy="545.6" r="3.9"/>
<circle cx="1543.3" cy="550.7" r="1.3"/>
<circle cx="1843.7" cy="549.2" r="1.6"/>
<circle cx="1699.8" cy="552.4" r="2.0"/>
<circle cx="1714.2" cy="559.7" r="2.3"/>
<circle cx="1762" cy="561.4" r="1.3"/>
<circle cx="1708.3" cy="563.4" r="2.0"/>
<circle cx="1729.8" cy="563.6" r="1.1"/>
<circle cx="1729.3" cy="566.3" r="1.6"/>
<circle cx="1543.1" cy="565.8" r="1.3"/>
<circle cx="1625.1" cy="568.8" r="8.2"/>
<circle cx="1492.1" cy="569.7" r="2.0"/>
<circle cx="1522.1" cy="572.7" r="1.3"/>
<circle cx="1530.9" cy="572.4" r="1.6"/>
<circle cx="1495.8" cy="574.1" r="2.0"/>
<circle cx="1702.9" cy="574.6" r="1.6"/>
<circle cx="1508.2" cy="576.1" r="3.2"/>
<circle cx="1536" cy="577.3" r="2.7"/>
<circle cx="1706.8" cy="576.8" r="1.3"/>
<circle cx="1836.6" cy="576.8" r="1.8"/>
<circle cx="1484" cy="578.8" r="1.1"/>
<circle cx="1697.3" cy="581.9" r="1.1"/>
<circle cx="1710.7" cy="584.4" r="1.8"/>
<circle cx="1772.2" cy="584.9" r="1.3"/>
<circle cx="1710.5" cy="587.3" r="1.3"/>
<circle cx="1486.2" cy="593.9" r="2.3"/>
<circle cx="1717.8" cy="593.4" r="1.6"/>
<circle cx="1706.1" cy="595.1" r="1.3"/>
<circle cx="1499.4" cy="598" r="2.3"/>
<circle cx="1772.2" cy="597.8" r="1.1"/>
<circle cx="1723.2" cy="597.8" r="1.1"/>
<circle cx="1712" cy="600" r="1.1"/>
<circle cx="1773" cy="601.2" r="1.6"/>
<circle cx="1725.9" cy="601.9" r="1.3"/>
<circle cx="1758.3" cy="601.9" r="2.0"/>
<circle cx="1704.1" cy="604.1" r="1.6"/>
<circle cx="1705.6" cy="606.3" r="1.3"/>
<circle cx="1523.1" cy="606.3" r="1.6"/>
<circle cx="1548.2" cy="628.8" r="2.7"/>
<circle cx="1773.7" cy="149.7" r="1.3"/>
<circle cx="1832.7" cy="170.7" r="2.3"/>
<circle cx="1801.3" cy="211.7" r="4.6"/>
<circle cx="1721.2" cy="245.8" r="2.5"/>
<circle cx="1760.5" cy="247.8" r="1.1"/>
<circle cx="1780.3" cy="245.1" r="2.7"/>
<circle cx="1711.2" cy="285.9" r="1.1"/>
<circle cx="1761.2" cy="300.5" r="1.6"/>
<circle cx="1855.9" cy="305.4" r="1.6"/>
<circle cx="1711.2" cy="333.4" r="1.1"/>
<circle cx="1765.4" cy="330" r="2.7"/>
<circle cx="1516" cy="346.1" r="1.1"/>
<circle cx="1724.4" cy="350" r="2.0"/>
<circle cx="1386.4" cy="325.4" r="1.1"/>
</g>
<path d="M1848.8 593.2H1058.5" stroke="#5f8bcb" stroke-width="2" stroke-dasharray="7.8 7.62" stroke-dashoffset="6.4" fill="none"/>
<path d="M1848.8 584.6H1058.5" stroke="#8c2424" stroke-width="2" stroke-dasharray="7.8 7.62" stroke-dashoffset="6.4" fill="none"/>
<path d="M1058.5 593L1856.4 459.4" stroke="#5f8bcb" stroke-width="3.4" fill="none"/>
<path d="M1058.5 583.9L1856.4 469" stroke="#8c2424" stroke-width="3.4" fill="none"/>
<rect x="1019.8" y="29.5" width="875.6" height="627.1" fill="none" stroke="#222" stroke-width="1.6"/>
<path d="M1015.2 502.9H1019.3M1015.2 338.2H1019.3M1015.2 173.5H1019.3M1058.5 657.1V661.2M1258 657.1V661.2M1457.5 657.1V661.2M1656.9 657.1V661.2M1856.4 657.1V661.2" stroke="#333" stroke-width="2.4" fill="none"/>
<g font-size="13.7" fill="#404040">
<text x="1014.1" y="506.7" text-anchor="end">10</text>
<text x="1014.1" y="342" text-anchor="end">20</text>
<text x="1014.1" y="177.3" text-anchor="end">30</text>
<text x="1061.8" y="674.3" text-anchor="middle">0.00</text>
<text x="1261.3" y="674.3" text-anchor="middle">0.25</text>
<text x="1460.8" y="674.3" text-anchor="middle">0.50</text>
<text x="1660.2" y="674.3" text-anchor="middle">0.75</text>
<text x="1859.7" y="674.3" text-anchor="middle">1.00</text>
</g>
<text x="1405" y="22.1" font-family="'Liberation Serif', serif" font-weight="bold" font-size="23.5" textLength="99.6" lengthAdjust="spacing" fill="#000">Cannabis</text>
<text x="1376.3" y="694.6" font-size="18.3" textLength="172.1" lengthAdjust="spacingAndGlyphs" fill="#000">Relative rank by SDI</text>
<text transform="translate(980.2 622.6) rotate(-90)" font-size="18.3" textLength="473.3" lengthAdjust="spacingAndGlyphs" fill="#000">DALYs (Disability−Adjusted Life Years) rate (per 100,000)</text>
</g>
<g id="panel3">
<path d="M67.6 1264.1H932.9M67.6 1080.2H932.9M67.6 896.4H932.9M202.7 760.8V1383.5M401 760.8V1383.5M599.3 760.8V1383.5M797.6 760.8V1383.5" stroke="#ececec" stroke-width="1.6" fill="none"/>
<path d="M67.6 1356H932.9M67.6 1172.2H932.9M67.6 988.3H932.9M67.6 804.5H932.9M103.5 760.8V1383.5M301.8 760.8V1383.5M500.1 760.8V1383.5M698.5 760.8V1383.5M896.8 760.8V1383.5" stroke="#e4e4e4" stroke-width="2.6" fill="none"/>
<path d="M103.5 1347.3L136.6 1345.5L169.6 1343.7L202.7 1341.8L235.7 1340L268.8 1338.1L301.8 1336.3L334.9 1334.4L367.9 1332.5L401 1330.5L434 1328.6L467.1 1326.6L500.1 1324.5L533.2 1322.4L566.3 1320.3L599.3 1318.1L632.4 1315.9L665.4 1313.7L698.5 1311.4L731.5 1309.1L764.6 1306.9L797.6 1304.6L830.7 1302.3L863.7 1300L896.8 1297.6L896.8 1305.7L863.7 1307.5L830.7 1309.3L797.6 1311.1L764.6 1313L731.5 1314.8L698.5 1316.6L665.4 1318.5L632.4 1320.4L599.3 1322.3L566.3 1324.2L533.2 1326.2L500.1 1328.2L467.1 1330.2L434 1332.3L401 1334.5L367.9 1336.7L334.9 1338.9L301.8 1341.1L268.8 1343.3L235.7 1345.6L202.7 1347.8L169.6 1350.1L136.6 1352.4L103.5 1354.7Z" fill="#4d6fd0" fill-opacity="0.13"/>
<path d="M103.5 1343.6L136.6 1341.8L169.6 1340L202.7 1338.1L235.7 1336.3L268.8 1334.4L301.8 1332.5L334.9 1330.6L367.9 1328.6L401 1326.6L434 1324.6L467.1 1322.5L500.1 1320.3L533.2 1318L566.3 1315.7L599.3 1313.4L632.4 1310.9L665.4 1308.5L698.5 1306L731.5 1303.4L764.6 1300.9L797.6 1298.3L830.7 1295.7L863.7 1293.1L896.8 1290.5L896.8 1302.6L863.7 1304.5L830.7 1306.4L797.6 1308.3L764.6 1310.2L731.5 1312.1L698.5 1314L665.4 1316L632.4 1318L599.3 1320.1L566.3 1322.2L533.2 1324.3L500.1 1326.6L467.1 1328.8L434 1331.2L401 1333.6L367.9 1336.1L334.9 1338.6L301.8 1341.2L268.8 1343.7L235.7 1346.3L202.7 1349L169.6 1351.6L136.6 1354.2L103.5 1356.9Z" fill="#a0664a" fill-opacity="0.23"/>
<g fill="#7ba0da" stroke="#678dcb" stroke-width="0.7">
<circle cx="209.1" cy="1230.2" r="1.6"/>
<circle cx="216.2" cy="1246.3" r="1.3"/>
<circle cx="387.2" cy="1260" r="2.7"/>
<circle cx="378.9" cy="1268.7" r="1.6"/>
<circle cx="352.1" cy="1274.8" r="1.6"/>
<circle cx="190.8" cy="1278.8" r="1.8"/>
<circle cx="381.6" cy="1280" r="1.1"/>
<circle cx="367" cy="1294.9" r="1.1"/>
<circle cx="119.8" cy="1297.5" r="1.8"/>
<circle cx="382.1" cy="1306.3" r="1.6"/>
<circle cx="378.4" cy="1307.8" r="1.1"/>
<circle cx="347.7" cy="1324.1" r="1.6"/>
<circle cx="368.4" cy="1324.6" r="2.0"/>
<circle cx="131.7" cy="1329.8" r="1.8"/>
<circle cx="172.7" cy="1329.5" r="2.0"/>
<circle cx="355.8" cy="1329.8" r="1.6"/>
<circle cx="349.9" cy="1332.4" r="1.3"/>
<circle cx="380.6" cy="1337.8" r="1.6"/>
<circle cx="378.7" cy="1342.2" r="1.6"/>
<circle cx="279.9" cy="1345.9" r="6.3"/>
<circle cx="391.4" cy="1346.6" r="1.1"/>
<circle cx="378" cy="1347.3" r="1.1"/>
<circle cx="373.8" cy="1348.5" r="2.0"/>
<circle cx="346.7" cy="1349.8" r="2.5"/>
<circle cx="349.2" cy="1352.9" r="1.1"/>
<circle cx="405" cy="1354.4" r="3.5"/>
<circle cx="212.5" cy="1353.2" r="1.8"/>
<circle cx="174.2" cy="1351.7" r="1.8"/>
<circle cx="175.9" cy="1344.2" r="1.3"/>
<circle cx="159.8" cy="1343.9" r="1.8"/>
<circle cx="129.3" cy="1347.6" r="1.6"/>
<circle cx="113.4" cy="1345.6" r="2.5"/>
<circle cx="106.4" cy="1351.5" r="1.8"/>
<circle cx="152.7" cy="1351.5" r="1.6"/>
<circle cx="837" cy="1097.7" r="3.9"/>
<circle cx="745.2" cy="1146.7" r="1.1"/>
<circle cx="805.5" cy="1176" r="1.1"/>
<circle cx="857.7" cy="1186.8" r="2.0"/>
<circle cx="731.3" cy="1217" r="2.3"/>
<circle cx="706.4" cy="1227.3" r="2.3"/>
<circle cx="701.6" cy="1229.5" r="1.3"/>
<circle cx="746" cy="1226.5" r="1.3"/>
<circle cx="795.5" cy="1239.2" r="1.8"/>
<circle cx="883.1" cy="1242.9" r="1.3"/>
<circle cx="612" cy="1250.2" r="2.3"/>
<circle cx="649.3" cy="1249.5" r="3.0"/>
<circle cx="811.4" cy="1249.5" r="2.5"/>
<circle cx="880.9" cy="1250.9" r="1.6"/>
<circle cx="855.8" cy="1258.7" r="1.1"/>
<circle cx="703" cy="1260.9" r="1.8"/>
<circle cx="784.3" cy="1262.4" r="1.1"/>
<circle cx="746.7" cy="1265.3" r="1.1"/>
<circle cx="895.8" cy="1266.8" r="1.6"/>
<circle cx="685.5" cy="1269" r="1.3"/>
<circle cx="793.8" cy="1268.7" r="1.3"/>
<circle cx="701.6" cy="1275.3" r="1.1"/>
<circle cx="855.8" cy="1275.3" r="1.1"/>
<circle cx="889.7" cy="1274.8" r="2.5"/>
<circle cx="628.6" cy="1276.6" r="3.5"/>
<circle cx="775.3" cy="1276.1" r="1.3"/>
<circle cx="816.3" cy="1277.8" r="1.6"/>
<circle cx="692.3" cy="1283.1" r="2.3"/>
<circle cx="762.1" cy="1282.7" r="3.5"/>
<circle cx="742.6" cy="1286.3" r="1.3"/>
<circle cx="781.1" cy="1288.5" r="2.3"/>
<circle cx="685" cy="1291.2" r="1.3"/>
<circle cx="700.1" cy="1292.9" r="1.8"/>
<circle cx="675" cy="1294.1" r="1.8"/>
<circle cx="642.8" cy="1294.9" r="1.1"/>
<circle cx="806.5" cy="1294.1" r="1.3"/>
<circle cx="777.2" cy="1293.2" r="1.3"/>
<circle cx="714.7" cy="1296.8" r="1.1"/>
<circle cx="720.4" cy="1299.3" r="1.3"/>
<circle cx="793.3" cy="1297.1" r="1.3"/>
<circle cx="817.7" cy="1297.1" r="1.1"/>
<circle cx="609.6" cy="1303.4" r="1.1"/>
<circle cx="614.4" cy="1305.4" r="1.1"/>
<circle cx="789.4" cy="1301" r="1.3"/>
<circle cx="883.8" cy="1301" r="1.1"/>
<circle cx="870.7" cy="1306.8" r="2.7"/>
<circle cx="594.4" cy="1311.7" r="1.1"/>
<circle cx="680.6" cy="1309.7" r="1.3"/>
<circle cx="714.3" cy="1309.5" r="1.3"/>
<circle cx="727.9" cy="1314.9" r="1.6"/>
<circle cx="744.8" cy="1314.4" r="1.3"/>
<circle cx="746" cy="1319.7" r="1.1"/>
<circle cx="797" cy="1319" r="1.1"/>
<circle cx="860.4" cy="1320.2" r="1.6"/>
<circle cx="882.4" cy="1320.5" r="1.6"/>
<circle cx="684.5" cy="1323.2" r="1.3"/>
<circle cx="716.7" cy="1321.9" r="1.8"/>
<circle cx="722.8" cy="1322.2" r="2.3"/>
<circle cx="774" cy="1321.7" r="1.6"/>
<circle cx="801.1" cy="1322.4" r="2.5"/>
<circle cx="719.1" cy="1325.6" r="1.6"/>
<circle cx="738.7" cy="1329" r="2.5"/>
<circle cx="749.6" cy="1327.1" r="1.6"/>
<circle cx="596.1" cy="1330.5" r="1.8"/>
<circle cx="699.1" cy="1330.2" r="1.3"/>
<circle cx="710.1" cy="1331.7" r="1.6"/>
<circle cx="609.1" cy="1333.2" r="1.6"/>
<circle cx="678.1" cy="1333.2" r="1.6"/>
<circle cx="743.3" cy="1334.9" r="1.3"/>
<circle cx="683" cy="1337.3" r="1.8"/>
<circle cx="701.3" cy="1336.8" r="1.3"/>
<circle cx="715" cy="1337.3" r="1.3"/>
<circle cx="726.5" cy="1337.8" r="1.6"/>
<circle cx="734.5" cy="1338.3" r="1.1"/>
<circle cx="775.3" cy="1339.5" r="1.3"/>
<circle cx="607.4" cy="1338.8" r="1.3"/>
<circle cx="641" cy="1342" r="1.8"/>
<circle cx="602.5" cy="1342.9" r="2.3"/>
<circle cx="695.2" cy="1342.9" r="1.3"/>
<circle cx="746.5" cy="1340.5" r="1.1"/>
<circle cx="506.8" cy="1345.1" r="7.2"/>
<circle cx="687.4" cy="1346.1" r="2.0"/>
<circle cx="701.6" cy="1345.6" r="1.1"/>
<circle cx="711.8" cy="1344.6" r="1.3"/>
<circle cx="745.7" cy="1345.1" r="1.3"/>
<circle cx="776.5" cy="1343.7" r="1.1"/>
<circle cx="775.3" cy="1346.1" r="1.1"/>
<circle cx="687.9" cy="1349.5" r="1.6"/>
<circle cx="792.8" cy="1349.3" r="1.0"/>
<circle cx="701.6" cy="1352.4" r="1.1"/>
<circle cx="695.9" cy="1353.7" r="1.8"/>
<circle cx="614.7" cy="1352.2" r="1.3"/>
</g>
<g fill="#a84e3e" stroke="#8a2d26" stroke-width="0.7">
<circle cx="482.4" cy="1170.2" r="3.9"/>
<circle cx="270.1" cy="1200.7" r="1.8"/>
<circle cx="257.4" cy="1237.3" r="1.8"/>
<circle cx="263.5" cy="1251.4" r="1.1"/>
<circle cx="432.9" cy="1253.6" r="1.6"/>
<circle cx="458.5" cy="1250.7" r="1.1"/>
<circle cx="175.9" cy="1260.7" r="1.8"/>
<circle cx="496.1" cy="1265.3" r="2.5"/>
<circle cx="280.4" cy="1286.6" r="1.6"/>
<circle cx="459.5" cy="1286.1" r="1.1"/>
<circle cx="444.8" cy="1300" r="1.3"/>
<circle cx="459.7" cy="1300.7" r="1.3"/>
<circle cx="446" cy="1307.8" r="1.8"/>
<circle cx="123.7" cy="1316.1" r="2.3"/>
<circle cx="433.8" cy="1318.3" r="1.6"/>
<circle cx="459.2" cy="1322.9" r="1.6"/>
<circle cx="185.7" cy="1325.4" r="1.8"/>
<circle cx="263.3" cy="1326.3" r="1.6"/>
<circle cx="274" cy="1328" r="2.3"/>
<circle cx="278.4" cy="1328.3" r="2.0"/>
<circle cx="178.4" cy="1331.9" r="2.3"/>
<circle cx="256.9" cy="1333.9" r="1.3"/>
<circle cx="430.9" cy="1335.6" r="2.0"/>
<circle cx="445.1" cy="1336.1" r="1.3"/>
<circle cx="448" cy="1337.1" r="1.3"/>
<circle cx="241.8" cy="1345.4" r="3.9"/>
<circle cx="357.7" cy="1345.1" r="8.2"/>
<circle cx="452.9" cy="1345.4" r="2.7"/>
<circle cx="429.2" cy="1345.4" r="1.3"/>
<circle cx="458.7" cy="1345.6" r="1.6"/>
<circle cx="459.5" cy="1348.5" r="1.6"/>
<circle cx="439.5" cy="1349" r="3.0"/>
<circle cx="465.6" cy="1352.7" r="2.7"/>
<circle cx="429.7" cy="1352" r="1.1"/>
<circle cx="448" cy="1352.2" r="1.1"/>
<circle cx="219.3" cy="1351" r="3.7"/>
<circle cx="266.4" cy="1353.9" r="2.5"/>
<circle cx="260.3" cy="1348.8" r="1.8"/>
<circle cx="254.5" cy="1349.3" r="1.1"/>
<circle cx="282.5" cy="1351" r="1.6"/>
<circle cx="286" cy="1352" r="1.3"/>
<circle cx="207.4" cy="1352" r="1.3"/>
<circle cx="197.9" cy="1349" r="2.0"/>
<circle cx="201.5" cy="1350.5" r="1.1"/>
<circle cx="183.2" cy="1350.3" r="1.3"/>
<circle cx="187.6" cy="1351" r="1.3"/>
<circle cx="190.8" cy="1353.2" r="1.3"/>
<circle cx="184.2" cy="1353.4" r="1.8"/>
<circle cx="172.2" cy="1343.9" r="2.5"/>
<circle cx="164.9" cy="1352.9" r="1.3"/>
<circle cx="169.6" cy="1353.4" r="1.1"/>
<circle cx="156.9" cy="1353.4" r="1.6"/>
<circle cx="153.5" cy="1344.6" r="1.6"/>
<circle cx="149.3" cy="1346.8" r="1.6"/>
<circle cx="143.2" cy="1347.6" r="2.3"/>
<circle cx="138.1" cy="1349" r="1.8"/>
<circle cx="132.2" cy="1348.5" r="1.6"/>
<circle cx="123.9" cy="1349.3" r="1.8"/>
<circle cx="118.6" cy="1347.8" r="2.0"/>
<circle cx="112.5" cy="1348.5" r="1.6"/>
<circle cx="108.6" cy="1350" r="1.8"/>
<circle cx="104.4" cy="1348.1" r="1.8"/>
<circle cx="116.1" cy="1351.5" r="1.6"/>
<circle cx="125.9" cy="1351.7" r="1.3"/>
<circle cx="135.6" cy="1351.5" r="1.3"/>
<circle cx="145.4" cy="1350.3" r="1.3"/>
<circle cx="801.4" cy="1191.4" r="1.1"/>
<circle cx="558.1" cy="1199" r="1.1"/>
<circle cx="820.9" cy="1198.5" r="2.5"/>
<circle cx="877.7" cy="1203.6" r="1.1"/>
<circle cx="762.1" cy="1211.4" r="2.3"/>
<circle cx="752.6" cy="1212.6" r="1.1"/>
<circle cx="740.6" cy="1220.7" r="2.5"/>
<circle cx="594.9" cy="1224.3" r="1.3"/>
<circle cx="810.9" cy="1223.8" r="2.0"/>
<circle cx="801.1" cy="1233.4" r="1.1"/>
<circle cx="886" cy="1238.7" r="1.6"/>
<circle cx="765.3" cy="1241.7" r="2.0"/>
<circle cx="875.1" cy="1245.3" r="1.6"/>
<circle cx="550.5" cy="1248" r="3.2"/>
<circle cx="759.9" cy="1249.2" r="1.3"/>
<circle cx="885.1" cy="1252.2" r="1.8"/>
<circle cx="816.3" cy="1267.3" r="1.6"/>
<circle cx="890.7" cy="1269.2" r="2.7"/>
<circle cx="564.4" cy="1272.4" r="1.6"/>
<circle cx="532" cy="1274.6" r="1.8"/>
<circle cx="572.5" cy="1274.6" r="1.3"/>
<circle cx="815" cy="1272.2" r="1.6"/>
<circle cx="824.5" cy="1271.4" r="1.3"/>
<circle cx="895.8" cy="1277" r="1.6"/>
<circle cx="561.2" cy="1279.7" r="2.5"/>
<circle cx="582.5" cy="1280.7" r="1.3"/>
<circle cx="752.6" cy="1279.2" r="1.3"/>
<circle cx="792.8" cy="1278.5" r="1.3"/>
<circle cx="877.7" cy="1278.8" r="1.1"/>
<circle cx="534.7" cy="1285.8" r="2.3"/>
<circle cx="578.1" cy="1286.1" r="2.7"/>
<circle cx="585.9" cy="1287" r="1.3"/>
<circle cx="802.6" cy="1284.4" r="1.3"/>
<circle cx="812.6" cy="1284.1" r="1.3"/>
<circle cx="895.3" cy="1285.3" r="1.1"/>
<circle cx="752.6" cy="1289.7" r="1.1"/>
<circle cx="558.1" cy="1291.4" r="1.1"/>
<circle cx="792.3" cy="1292.4" r="1.6"/>
<circle cx="814.8" cy="1290.5" r="1.3"/>
<circle cx="816.7" cy="1292.9" r="1.6"/>
<circle cx="858.5" cy="1290.2" r="1.1"/>
<circle cx="880.4" cy="1292.4" r="2.3"/>
<circle cx="770.9" cy="1296.3" r="1.1"/>
<circle cx="743.8" cy="1298.3" r="1.8"/>
<circle cx="784.5" cy="1299.7" r="3.0"/>
<circle cx="774.5" cy="1302.4" r="2.0"/>
<circle cx="746.5" cy="1303.4" r="1.6"/>
<circle cx="751.3" cy="1305.8" r="1.6"/>
<circle cx="557.8" cy="1307.3" r="1.6"/>
<circle cx="864.6" cy="1306.6" r="3.0"/>
<circle cx="769.2" cy="1312.7" r="1.6"/>
<circle cx="806" cy="1315.6" r="2.7"/>
<circle cx="817.5" cy="1316.1" r="1.3"/>
<circle cx="758.2" cy="1317.8" r="1.3"/>
<circle cx="793.1" cy="1319" r="1.3"/>
<circle cx="752.6" cy="1322.9" r="1.6"/>
<circle cx="767.2" cy="1322.2" r="1.6"/>
<circle cx="594.7" cy="1323.9" r="1.1"/>
<circle cx="565.2" cy="1326.6" r="1.6"/>
<circle cx="803.3" cy="1325.6" r="1.1"/>
<circle cx="809.4" cy="1325.6" r="1.3"/>
<circle cx="528.8" cy="1328.3" r="2.5"/>
<circle cx="542" cy="1329" r="2.3"/>
<circle cx="746.5" cy="1328.3" r="1.3"/>
<circle cx="754.8" cy="1329.3" r="2.0"/>
<circle cx="795.3" cy="1329" r="2.3"/>
<circle cx="585.4" cy="1332.2" r="1.3"/>
<circle cx="758.7" cy="1331.9" r="1.6"/>
<circle cx="746.9" cy="1335.9" r="1.1"/>
<circle cx="538.1" cy="1337.6" r="2.3"/>
<circle cx="752.3" cy="1338.3" r="1.6"/>
<circle cx="768.4" cy="1335.9" r="1.3"/>
<circle cx="770.9" cy="1334.9" r="1.1"/>
<circle cx="813.6" cy="1336.8" r="1.6"/>
<circle cx="769.6" cy="1338.8" r="1.6"/>
<circle cx="812.6" cy="1339.8" r="1.1"/>
<circle cx="590.3" cy="1341.5" r="2.5"/>
<circle cx="584.4" cy="1343.9" r="1.8"/>
<circle cx="573.2" cy="1343.4" r="1.6"/>
<circle cx="526.4" cy="1344.6" r="1.1"/>
<circle cx="752.1" cy="1345.1" r="1.8"/>
<circle cx="767.4" cy="1344.2" r="1.1"/>
<circle cx="813.1" cy="1345.1" r="1.3"/>
<circle cx="799.2" cy="1346.3" r="2.0"/>
<circle cx="666.4" cy="1350.3" r="7.9"/>
<circle cx="738.2" cy="1348.1" r="1.3"/>
<circle cx="744.8" cy="1348.5" r="2.5"/>
<circle cx="802.3" cy="1349.3" r="1.3"/>
<circle cx="569.1" cy="1352.2" r="2.0"/>
<circle cx="558.1" cy="1352.9" r="1.1"/>
<circle cx="512.7" cy="1353.9" r="3.7"/>
<circle cx="748.9" cy="1352.2" r="1.8"/>
<circle cx="752.6" cy="1354.6" r="1.1"/>
<circle cx="766.5" cy="1352.2" r="1.1"/>
<circle cx="770.9" cy="1352.7" r="1.3"/>
<circle cx="876.8" cy="1352.4" r="1.8"/>
<circle cx="841.4" cy="786.5" r="4.6"/>
<circle cx="800.9" cy="975.4" r="1.0"/>
<circle cx="801.1" cy="977.5" r="1.3"/>
<circle cx="872.9" cy="1043.9" r="2.3"/>
</g>
<path d="M885.1 1350.9H103.5" stroke="#5f8bcb" stroke-width="2" stroke-dasharray="7.8 7.62" stroke-dashoffset="0" fill="none"/>
<path d="M885.1 1350.5H103.5" stroke="#8c2424" stroke-width="2" stroke-dasharray="7.8 7.62" stroke-dashoffset="0" fill="none"/>
<path d="M103.5 1351L896.8 1301.7" stroke="#5f8bcb" stroke-width="3.4" fill="none"/>
<path d="M103.5 1350.3L896.8 1296.6" stroke="#8c2424" stroke-width="3.4" fill="none"/>
<rect x="65.4" y="758.6" width="869.7" height="627.1" fill="none" stroke="#222" stroke-width="1.6"/>
<path d="M60.8 1356H64.9M60.8 1172.2H64.9M60.8 988.3H64.9M60.8 804.5H64.9M103.5 1386.2V1390.3M301.8 1386.2V1390.3M500.1 1386.2V1390.3M698.5 1386.2V1390.3M896.8 1386.2V1390.3" stroke="#333" stroke-width="2.4" fill="none"/>
<g font-size="13.7" fill="#404040">
<text x="55.1" y="1359.8" text-anchor="end">0</text>
<text x="57.4" y="1176" text-anchor="end">50</text>
<text x="59.7" y="992.1" text-anchor="end">100</text>
<text x="59.7" y="808.2" text-anchor="end">150</text>
<text x="106.8" y="1403" text-anchor="middle">0.00</text>
<text x="305.1" y="1403" text-anchor="middle">0.25</text>
<text x="503.4" y="1403" text-anchor="middle">0.50</text>
<text x="701.8" y="1403" text-anchor="middle">0.75</text>
<text x="900.1" y="1403" text-anchor="middle">1.00</text>
</g>
<text x="459.2" y="751.3" font-family="'Liberation Serif', serif" font-weight="bold" font-size="23.5" textLength="84.6" lengthAdjust="spacing" fill="#000">Cocaine</text>
<text x="427.7" y="1423.6" font-size="18.3" textLength="171.4" lengthAdjust="spacingAndGlyphs" fill="#000">Relative rank by SDI</text>
<text transform="translate(19.8 1317.1) rotate(-90)" font-size="18.3" textLength="473.3" lengthAdjust="spacingAndGlyphs" fill="#000">DALYs (Disability−Adjusted Life Years) rate (per 100,000)</text>
</g>
<g id="panel4">
<path d="M1025.1 1273.8H1886.4M1025.1 1092.8H1886.4M1025.1 911.8H1886.4M1159.3 761V1385.4M1356.7 761V1385.4M1554 761V1385.4M1751.4 761V1385.4" stroke="#ececec" stroke-width="1.6" fill="none"/>
<path d="M1025.1 1364.3H1886.4M1025.1 1183.3H1886.4M1025.1 1002.3H1886.4M1025.1 821.3H1886.4M1060.6 761V1385.4M1258 761V1385.4M1455.3 761V1385.4M1652.7 761V1385.4M1850.1 761V1385.4" stroke="#e4e4e4" stroke-width="2.6" fill="none"/>
<path d="M1060.6 1348.4L1093.5 1347.8L1126.4 1347.2L1159.3 1346.7L1192.2 1346.1L1225.1 1345.5L1258 1344.9L1290.9 1344.3L1323.8 1343.7L1356.7 1343.1L1389.6 1342.5L1422.5 1341.8L1455.3 1341.1L1488.2 1340.4L1521.1 1339.7L1554 1339L1586.9 1338.2L1619.8 1337.4L1652.7 1336.6L1685.6 1335.8L1718.5 1335L1751.4 1334.2L1784.3 1333.4L1817.2 1332.5L1850.1 1331.7L1850.1 1336.1L1817.2 1336.6L1784.3 1337.2L1751.4 1337.8L1718.5 1338.3L1685.6 1338.9L1652.7 1339.5L1619.8 1340.1L1586.9 1340.7L1554 1341.3L1521.1 1342L1488.2 1342.6L1455.3 1343.3L1422.5 1344L1389.6 1344.7L1356.7 1345.5L1323.8 1346.2L1290.9 1347L1258 1347.8L1225.1 1348.6L1192.2 1349.4L1159.3 1350.2L1126.4 1351.1L1093.5 1351.9L1060.6 1352.7Z" fill="#4d6fd0" fill-opacity="0.13"/>
<path d="M1060.6 1346.7L1093.5 1346.1L1126.4 1345.4L1159.3 1344.7L1192.2 1344L1225.1 1343.4L1258 1342.7L1290.9 1341.9L1323.8 1341.2L1356.7 1340.5L1389.6 1339.7L1422.5 1338.9L1455.3 1338.1L1488.2 1337.2L1521.1 1336.3L1554 1335.3L1586.9 1334.4L1619.8 1333.4L1652.7 1332.4L1685.6 1331.3L1718.5 1330.3L1751.4 1329.3L1784.3 1328.2L1817.2 1327.2L1850.1 1326.1L1850.1 1331.9L1817.2 1332.6L1784.3 1333.3L1751.4 1334L1718.5 1334.7L1685.6 1335.4L1652.7 1336.1L1619.8 1336.9L1586.9 1337.6L1554 1338.4L1521.1 1339.2L1488.2 1340.1L1455.3 1341L1422.5 1341.9L1389.6 1342.8L1356.7 1343.8L1323.8 1344.8L1290.9 1345.8L1258 1346.8L1225.1 1347.9L1192.2 1349L1159.3 1350L1126.4 1351.1L1093.5 1352.2L1060.6 1353.3Z" fill="#a0664a" fill-opacity="0.23"/>
<g fill="#7ba0da" stroke="#678dcb" stroke-width="0.7">
<circle cx="1343" cy="1272.7" r="2.3"/>
<circle cx="1322.7" cy="1300.5" r="1.1"/>
<circle cx="1076.7" cy="1311.9" r="1.6"/>
<circle cx="1305.9" cy="1322.9" r="2.0"/>
<circle cx="1129.4" cy="1328" r="1.8"/>
<circle cx="1324.2" cy="1328" r="1.8"/>
<circle cx="1336.4" cy="1329.3" r="1.6"/>
<circle cx="1088.9" cy="1333.9" r="1.6"/>
<circle cx="1329.8" cy="1337.6" r="2.3"/>
<circle cx="1335.4" cy="1336.3" r="1.3"/>
<circle cx="1338.6" cy="1338.1" r="1.1"/>
<circle cx="1236.3" cy="1343.7" r="6.5"/>
<circle cx="1156" cy="1342" r="3.2"/>
<circle cx="1133.1" cy="1341" r="1.6"/>
<circle cx="1085.8" cy="1345.6" r="1.8"/>
<circle cx="1090.2" cy="1344.9" r="1.3"/>
<circle cx="1082.1" cy="1347.1" r="2.3"/>
<circle cx="1099.9" cy="1346.6" r="2.5"/>
<circle cx="1165.8" cy="1344.2" r="1.6"/>
<circle cx="1172.9" cy="1345.6" r="1.1"/>
<circle cx="1114.1" cy="1346.8" r="1.3"/>
<circle cx="1361" cy="1359.8" r="3.7"/>
<circle cx="1335.4" cy="1347.8" r="1.6"/>
<circle cx="1338.3" cy="1352.2" r="1.6"/>
<circle cx="1302.5" cy="1351.5" r="2.5"/>
<circle cx="1309.5" cy="1352" r="1.8"/>
<circle cx="1304.2" cy="1347.8" r="1.1"/>
<circle cx="1347.6" cy="1344.6" r="1.1"/>
<circle cx="1169.5" cy="1353.4" r="2.0"/>
<circle cx="1140.4" cy="1355.4" r="2.7"/>
<circle cx="1108.7" cy="1352.2" r="2.0"/>
<circle cx="1114.6" cy="1353.9" r="1.6"/>
<circle cx="1121.1" cy="1351.5" r="1.8"/>
<circle cx="1073.1" cy="1353.2" r="2.0"/>
<circle cx="1063.1" cy="1353.4" r="2.3"/>
<circle cx="1081.1" cy="1350.5" r="1.8"/>
<circle cx="1849.3" cy="1198.5" r="1.3"/>
<circle cx="1716.3" cy="1260.5" r="3.2"/>
<circle cx="1729.3" cy="1280.9" r="1.3"/>
<circle cx="1811.5" cy="1281.4" r="2.0"/>
<circle cx="1836.4" cy="1280.2" r="1.8"/>
<circle cx="1749.3" cy="1285.1" r="1.8"/>
<circle cx="1790.8" cy="1290" r="3.9"/>
<circle cx="1673.4" cy="1294.9" r="1.8"/>
<circle cx="1771.5" cy="1295.8" r="1.3"/>
<circle cx="1742.7" cy="1298.3" r="2.5"/>
<circle cx="1692.7" cy="1299.7" r="2.5"/>
<circle cx="1809.3" cy="1298.8" r="1.1"/>
<circle cx="1759.5" cy="1303.4" r="1.1"/>
<circle cx="1809.6" cy="1302.9" r="1.1"/>
<circle cx="1461.8" cy="1308" r="7.5"/>
<circle cx="1685.6" cy="1306.6" r="2.3"/>
<circle cx="1729.5" cy="1307.3" r="1.3"/>
<circle cx="1664.4" cy="1309.3" r="2.0"/>
<circle cx="1704.1" cy="1309.7" r="1.6"/>
<circle cx="1770.3" cy="1311.9" r="1.6"/>
<circle cx="1646.8" cy="1314.9" r="2.3"/>
<circle cx="1843" cy="1316.3" r="2.7"/>
<circle cx="1765.2" cy="1319.3" r="2.5"/>
<circle cx="1635.6" cy="1321.9" r="1.3"/>
<circle cx="1668.8" cy="1322.7" r="1.6"/>
<circle cx="1638.7" cy="1324.4" r="1.3"/>
<circle cx="1688.5" cy="1323.4" r="1.3"/>
<circle cx="1728.3" cy="1324.1" r="1.6"/>
<circle cx="1551.1" cy="1326.8" r="1.8"/>
<circle cx="1563.8" cy="1327.1" r="1.3"/>
<circle cx="1747.8" cy="1326.8" r="1.3"/>
<circle cx="1649.7" cy="1329.3" r="1.3"/>
<circle cx="1700" cy="1329.3" r="1.8"/>
<circle cx="1557.2" cy="1331" r="2.3"/>
<circle cx="1656.1" cy="1331.2" r="1.3"/>
<circle cx="1640.5" cy="1331.7" r="1.1"/>
<circle cx="1562.1" cy="1333.7" r="1.3"/>
<circle cx="1666.3" cy="1332.2" r="1.3"/>
<circle cx="1754.2" cy="1332.2" r="1.6"/>
<circle cx="1700.7" cy="1333.9" r="1.3"/>
<circle cx="1757.6" cy="1335.1" r="1.6"/>
<circle cx="1771" cy="1337.6" r="1.3"/>
<circle cx="1814.2" cy="1338.3" r="1.3"/>
<circle cx="1699" cy="1340.5" r="1.3"/>
<circle cx="1670.7" cy="1341.7" r="1.6"/>
<circle cx="1656.1" cy="1343.2" r="1.6"/>
<circle cx="1650.2" cy="1343.7" r="1.3"/>
<circle cx="1669.3" cy="1343.7" r="1.3"/>
<circle cx="1750.8" cy="1342" r="1.1"/>
<circle cx="1738.3" cy="1342.9" r="1.1"/>
<circle cx="1660.7" cy="1345.6" r="1.6"/>
<circle cx="1655.1" cy="1346.8" r="2.0"/>
<circle cx="1678" cy="1346.8" r="1.6"/>
<circle cx="1681.5" cy="1346.1" r="1.3"/>
<circle cx="1735.1" cy="1346.6" r="2.0"/>
<circle cx="1730.3" cy="1348.1" r="1.8"/>
<circle cx="1567.2" cy="1347.6" r="2.0"/>
<circle cx="1562.4" cy="1348.1" r="1.3"/>
<circle cx="1512.8" cy="1349.3" r="1.6"/>
<circle cx="1631.4" cy="1347.8" r="2.3"/>
<circle cx="1636.3" cy="1349" r="1.3"/>
<circle cx="1642.9" cy="1350" r="1.6"/>
<circle cx="1651.4" cy="1351.5" r="2.0"/>
<circle cx="1675.4" cy="1348.5" r="1.6"/>
<circle cx="1824.2" cy="1349" r="3.0"/>
<circle cx="1583.6" cy="1349.5" r="3.2"/>
<circle cx="1603.1" cy="1350.5" r="2.0"/>
<circle cx="1614.8" cy="1350.5" r="1.8"/>
<circle cx="1597.8" cy="1350" r="1.1"/>
<circle cx="1623.1" cy="1355.1" r="2.3"/>
</g>
<g fill="#a84e3e" stroke="#8a2d26" stroke-width="0.7">
<circle cx="1219.7" cy="1291" r="1.1"/>
<circle cx="1080.6" cy="1306.3" r="2.3"/>
<circle cx="1234.4" cy="1316.6" r="2.3"/>
<circle cx="1230.2" cy="1318.5" r="2.3"/>
<circle cx="1389.3" cy="1321.9" r="1.6"/>
<circle cx="1402.8" cy="1322.4" r="1.8"/>
<circle cx="1134.8" cy="1326.1" r="2.3"/>
<circle cx="1400.8" cy="1329.3" r="1.3"/>
<circle cx="1394.9" cy="1333.2" r="3.0"/>
<circle cx="1408.4" cy="1332.7" r="3.0"/>
<circle cx="1142.4" cy="1334.6" r="1.8"/>
<circle cx="1129" cy="1336.1" r="2.5"/>
<circle cx="1212.2" cy="1337.6" r="2.0"/>
<circle cx="1227.5" cy="1337.8" r="1.6"/>
<circle cx="1385.2" cy="1337.1" r="1.1"/>
<circle cx="1400.6" cy="1338.1" r="1.1"/>
<circle cx="1414.5" cy="1338.8" r="1.8"/>
<circle cx="1314.4" cy="1341" r="8.7"/>
<circle cx="1199.2" cy="1343.9" r="4.2"/>
<circle cx="1155.6" cy="1345.6" r="3.0"/>
<circle cx="1110.2" cy="1339.5" r="1.6"/>
<circle cx="1106.3" cy="1341.2" r="1.8"/>
<circle cx="1143.4" cy="1340" r="1.1"/>
<circle cx="1146.8" cy="1339.8" r="1.1"/>
<circle cx="1116.5" cy="1342.2" r="2.3"/>
<circle cx="1124.8" cy="1341.7" r="1.6"/>
<circle cx="1108.5" cy="1344.2" r="2.3"/>
<circle cx="1073.3" cy="1343.7" r="1.6"/>
<circle cx="1070.1" cy="1345.6" r="1.6"/>
<circle cx="1061.9" cy="1345.6" r="1.8"/>
<circle cx="1100.2" cy="1348.1" r="2.3"/>
<circle cx="1076.7" cy="1346.8" r="1.6"/>
<circle cx="1122.4" cy="1346.1" r="1.6"/>
<circle cx="1213.1" cy="1345.6" r="1.3"/>
<circle cx="1242.4" cy="1344.6" r="1.8"/>
<circle cx="1386.4" cy="1346.6" r="1.6"/>
<circle cx="1388.6" cy="1348.1" r="1.3"/>
<circle cx="1414.5" cy="1349.3" r="1.8"/>
<circle cx="1437.9" cy="1350.3" r="3.7"/>
<circle cx="1452.5" cy="1349" r="2.0"/>
<circle cx="1421.1" cy="1355.4" r="3.2"/>
<circle cx="1403" cy="1351" r="1.3"/>
<circle cx="1385.7" cy="1351" r="1.6"/>
<circle cx="1216.3" cy="1351.5" r="2.0"/>
<circle cx="1219.5" cy="1352.2" r="1.6"/>
<circle cx="1222.7" cy="1354.9" r="2.3"/>
<circle cx="1236.6" cy="1351" r="2.0"/>
<circle cx="1238.8" cy="1352.7" r="1.8"/>
<circle cx="1175.6" cy="1355.6" r="4.2"/>
<circle cx="1164.1" cy="1352.9" r="1.3"/>
<circle cx="1146.3" cy="1352" r="1.3"/>
<circle cx="1147.5" cy="1354.4" r="1.3"/>
<circle cx="1140.9" cy="1352.2" r="2.0"/>
<circle cx="1132.1" cy="1350.5" r="2.3"/>
<circle cx="1126.8" cy="1352.9" r="1.1"/>
<circle cx="1119.9" cy="1354.2" r="2.0"/>
<circle cx="1112.6" cy="1353.2" r="2.5"/>
<circle cx="1095.5" cy="1353.4" r="1.6"/>
<circle cx="1089.2" cy="1352.9" r="3.0"/>
<circle cx="1083.6" cy="1353.7" r="1.6"/>
<circle cx="1078.4" cy="1355.4" r="1.6"/>
<circle cx="1072.6" cy="1350" r="1.6"/>
<circle cx="1067.5" cy="1353.4" r="3.0"/>
<circle cx="1063.6" cy="1352.7" r="2.5"/>
<circle cx="1085.8" cy="1350.5" r="1.8"/>
<circle cx="1093.6" cy="1350.5" r="1.6"/>
<circle cx="1136" cy="1348.1" r="1.3"/>
<circle cx="1826.4" cy="1117.7" r="2.0"/>
<circle cx="1765.9" cy="1143.1" r="1.3"/>
<circle cx="1774.9" cy="1229.5" r="2.7"/>
<circle cx="1778.8" cy="1229" r="1.3"/>
<circle cx="1848.6" cy="1232.9" r="1.3"/>
<circle cx="1738.3" cy="1238.5" r="3.2"/>
<circle cx="1831.3" cy="1236.3" r="1.1"/>
<circle cx="1771.3" cy="1248.3" r="1.3"/>
<circle cx="1837.1" cy="1250.9" r="1.6"/>
<circle cx="1828.6" cy="1259.5" r="1.6"/>
<circle cx="1532.8" cy="1271.4" r="2.7"/>
<circle cx="1839.6" cy="1272.4" r="1.6"/>
<circle cx="1698" cy="1275.3" r="1.8"/>
<circle cx="1709" cy="1281.4" r="2.3"/>
<circle cx="1764.4" cy="1282.2" r="2.0"/>
<circle cx="1755.1" cy="1285.1" r="1.1"/>
<circle cx="1723.2" cy="1286.8" r="1.6"/>
<circle cx="1700.7" cy="1294.9" r="1.6"/>
<circle cx="1721.2" cy="1293.9" r="1.6"/>
<circle cx="1756.4" cy="1293.6" r="1.3"/>
<circle cx="1767.8" cy="1300.5" r="1.8"/>
<circle cx="1770.3" cy="1300.2" r="1.3"/>
<circle cx="1849.6" cy="1301" r="1.6"/>
<circle cx="1831.3" cy="1304.1" r="1.3"/>
<circle cx="1725.1" cy="1310.2" r="1.3"/>
<circle cx="1844" cy="1309.7" r="2.7"/>
<circle cx="1519.4" cy="1312.4" r="1.6"/>
<circle cx="1760" cy="1314.6" r="2.5"/>
<circle cx="1724.9" cy="1315.4" r="1.3"/>
<circle cx="1484" cy="1317.1" r="2.3"/>
<circle cx="1520.2" cy="1317.8" r="1.8"/>
<circle cx="1706.1" cy="1320.5" r="1.6"/>
<circle cx="1549.4" cy="1321.7" r="1.3"/>
<circle cx="1497" cy="1325.4" r="2.3"/>
<circle cx="1716.1" cy="1324.6" r="2.5"/>
<circle cx="1701.5" cy="1324.4" r="1.1"/>
<circle cx="1766.4" cy="1327.6" r="1.6"/>
<circle cx="1516.2" cy="1330.7" r="2.3"/>
<circle cx="1545.3" cy="1331.2" r="2.5"/>
<circle cx="1540.4" cy="1333.7" r="1.3"/>
<circle cx="1756.4" cy="1330.7" r="1.6"/>
<circle cx="1493.3" cy="1335.9" r="1.8"/>
<circle cx="1528.2" cy="1335.6" r="1.6"/>
<circle cx="1768.1" cy="1334.4" r="1.3"/>
<circle cx="1830.3" cy="1337.3" r="1.6"/>
<circle cx="1766.4" cy="1338.3" r="1.1"/>
<circle cx="1728.1" cy="1340" r="2.3"/>
<circle cx="1706.6" cy="1341.2" r="1.6"/>
<circle cx="1712.9" cy="1342" r="1.8"/>
<circle cx="1721.2" cy="1343.7" r="1.6"/>
<circle cx="1747.1" cy="1343.2" r="1.6"/>
<circle cx="1754.7" cy="1341" r="1.1"/>
<circle cx="1754.7" cy="1343.9" r="1.1"/>
<circle cx="1837.4" cy="1340.5" r="1.1"/>
<circle cx="1848.4" cy="1340.5" r="1.3"/>
<circle cx="1549.7" cy="1343.2" r="1.3"/>
<circle cx="1621.4" cy="1345.1" r="8.4"/>
<circle cx="1694.9" cy="1346.8" r="2.0"/>
<circle cx="1701.5" cy="1348.1" r="1.3"/>
<circle cx="1749" cy="1346.6" r="2.0"/>
<circle cx="1719.3" cy="1345.6" r="1.3"/>
<circle cx="1834" cy="1346.6" r="2.3"/>
<circle cx="1770.8" cy="1347.6" r="1.3"/>
<circle cx="1812" cy="1346.6" r="1.1"/>
<circle cx="1481.1" cy="1346.3" r="1.3"/>
<circle cx="1486.7" cy="1347.8" r="1.6"/>
<circle cx="1489.9" cy="1347.8" r="1.8"/>
<circle cx="1538.7" cy="1347.6" r="2.0"/>
<circle cx="1524.1" cy="1349.3" r="2.3"/>
<circle cx="1818.6" cy="1349.5" r="3.0"/>
<circle cx="1505.5" cy="1351.5" r="3.0"/>
<circle cx="1513.6" cy="1353.2" r="1.1"/>
<circle cx="1703.4" cy="1352.2" r="2.0"/>
<circle cx="1721" cy="1351.7" r="1.1"/>
<circle cx="1724.9" cy="1349.8" r="1.3"/>
<circle cx="1467.7" cy="1359" r="4.2"/>
<circle cx="1707.1" cy="1347.8" r="1.1"/>
<circle cx="1698.5" cy="1349.8" r="1.6"/>
<circle cx="1795.2" cy="786.9" r="4.7"/>
</g>
<path d="M1842 1350.8H1060.6" stroke="#5f8bcb" stroke-width="2" stroke-dasharray="7.8 7.62" stroke-dashoffset="0" fill="none"/>
<path d="M1842 1350.5H1060.6" stroke="#8c2424" stroke-width="2" stroke-dasharray="7.8 7.62" stroke-dashoffset="0" fill="none"/>
<path d="M1060.6 1350.5L1850.1 1333.9" stroke="#5f8bcb" stroke-width="3.4" fill="none"/>
<path d="M1060.6 1350L1850.1 1329" stroke="#8c2424" stroke-width="3.4" fill="none"/>
<rect x="1022.9" y="758.8" width="865.7" height="628.8" fill="none" stroke="#222" stroke-width="1.6"/>
<path d="M1018.3 1364.3H1022.4M1018.3 1183.3H1022.4M1018.3 1002.3H1022.4M1018.3 821.3H1022.4M1060.6 1388.1V1392.2M1258 1388.1V1392.2M1455.3 1388.1V1392.2M1652.7 1388.1V1392.2M1850.1 1388.1V1392.2" stroke="#333" stroke-width="2.4" fill="none"/>
<g font-size="13.7" fill="#404040">
<text x="1010.3" y="1368.1" text-anchor="end">0</text>
<text x="1014.9" y="1187.1" text-anchor="end">500</text>
<text x="1017.2" y="1006.1" text-anchor="end">1000</text>
<text x="1017.2" y="825.1" text-anchor="end">1500</text>
<text x="1063.9" y="1405.9" text-anchor="middle">0.00</text>
<text x="1261.3" y="1405.9" text-anchor="middle">0.25</text>
<text x="1458.6" y="1405.9" text-anchor="middle">0.50</text>
<text x="1656" y="1405.9" text-anchor="middle">0.75</text>
<text x="1853.4" y="1405.9" text-anchor="middle">1.00</text>
</g>
<text x="1422.2" y="751.3" font-family="'Liberation Serif', serif" font-weight="bold" font-size="23.5" textLength="71.6" lengthAdjust="spacing" fill="#000">Opioid</text>
<text x="1385.2" y="1425.8" font-size="18.3" textLength="172.2" lengthAdjust="spacingAndGlyphs" fill="#000">Relative rank by SDI</text>
<text transform="translate(971.5 1326.4) rotate(-90)" font-size="18.3" textLength="473.3" lengthAdjust="spacingAndGlyphs" fill="#000">DALYs (Disability−Adjusted Life Years) rate (per 100,000)</text>
</g>
<g id="panel5">
<path d="M67.6 1974.8H932.9M67.6 1767.3H932.9M67.6 1559.8H932.9M202.7 1483V2105.3M401 1483V2105.3M599.3 1483V2105.3M797.6 1483V2105.3" stroke="#ececec" stroke-width="1.6" fill="none"/>
<path d="M67.6 2078.6H932.9M67.6 1871.1H932.9M67.6 1663.6H932.9M103.5 1483V2105.3M301.8 1483V2105.3M500.1 1483V2105.3M698.5 1483V2105.3M896.8 1483V2105.3" stroke="#e4e4e4" stroke-width="2.6" fill="none"/>
<path d="M103.5 2073.1L136.6 2072.1L169.6 2071.2L202.7 2070.2L235.7 2069.2L268.8 2068.2L301.8 2067.1L334.9 2066.1L367.9 2065.1L401 2064L434 2062.9L467.1 2061.8L500.1 2060.7L533.2 2059.6L566.3 2058.4L599.3 2057.2L632.4 2056L665.4 2054.7L698.5 2053.5L731.5 2052.2L764.6 2051L797.6 2049.7L830.7 2048.4L863.7 2047.1L896.8 2045.8L896.8 2050.8L863.7 2051.8L830.7 2052.8L797.6 2053.8L764.6 2054.8L731.5 2055.8L698.5 2056.8L665.4 2057.8L632.4 2058.8L599.3 2059.9L566.3 2061L533.2 2062.1L500.1 2063.2L467.1 2064.4L434 2065.5L401 2066.7L367.9 2067.9L334.9 2069.2L301.8 2070.4L268.8 2071.7L235.7 2073L202.7 2074.2L169.6 2075.5L136.6 2076.8L103.5 2078.1Z" fill="#4d6fd0" fill-opacity="0.13"/>
<path d="M103.5 2071.3L136.6 2069.9L169.6 2068.5L202.7 2067.1L235.7 2065.8L268.8 2064.4L301.8 2062.9L334.9 2061.5L367.9 2060.1L401 2058.6L434 2057.1L467.1 2055.6L500.1 2054L533.2 2052.3L566.3 2050.7L599.3 2048.9L632.4 2047.2L665.4 2045.4L698.5 2043.6L731.5 2041.8L764.6 2040L797.6 2038.1L830.7 2036.3L863.7 2034.4L896.8 2032.5L896.8 2040L863.7 2041.4L830.7 2042.8L797.6 2044.2L764.6 2045.6L731.5 2047L698.5 2048.5L665.4 2050L632.4 2051.4L599.3 2053L566.3 2054.5L533.2 2056.1L500.1 2057.7L467.1 2059.4L434 2061.1L401 2062.9L367.9 2064.6L334.9 2066.5L301.8 2068.3L268.8 2070.1L235.7 2072L202.7 2073.9L169.6 2075.8L136.6 2077.7L103.5 2079.6Z" fill="#a0664a" fill-opacity="0.23"/>
<g fill="#7ba0da" stroke="#678dcb" stroke-width="0.7">
<circle cx="387.2" cy="1888.7" r="2.5"/>
<circle cx="367" cy="1957" r="1.1"/>
<circle cx="368.4" cy="1992.7" r="1.8"/>
<circle cx="119.8" cy="2014.4" r="1.6"/>
<circle cx="209.1" cy="2018" r="1.6"/>
<circle cx="172.7" cy="2034.4" r="1.8"/>
<circle cx="349.9" cy="2034.4" r="1.8"/>
<circle cx="216.2" cy="2047.1" r="1.3"/>
<circle cx="131.7" cy="2052.4" r="1.6"/>
<circle cx="378.9" cy="2051.7" r="1.6"/>
<circle cx="279.9" cy="2065.6" r="6.5"/>
<circle cx="142.7" cy="2065.6" r="3.0"/>
<circle cx="199.3" cy="2068.5" r="2.7"/>
<circle cx="191.3" cy="2069" r="1.3"/>
<circle cx="125.4" cy="2070.5" r="1.8"/>
<circle cx="131" cy="2070.5" r="1.1"/>
<circle cx="184" cy="2075.4" r="2.5"/>
<circle cx="174.7" cy="2074.9" r="1.1"/>
<circle cx="405" cy="2073.2" r="3.5"/>
<circle cx="373.8" cy="2072" r="1.8"/>
<circle cx="378" cy="2069.8" r="1.1"/>
<circle cx="381.6" cy="2068.5" r="1.3"/>
<circle cx="382.6" cy="2071" r="1.1"/>
<circle cx="391.4" cy="2071.7" r="1.1"/>
<circle cx="346" cy="2075.1" r="2.0"/>
<circle cx="347.9" cy="2071.7" r="1.1"/>
<circle cx="356.5" cy="2072.2" r="1.1"/>
<circle cx="795.3" cy="1894.3" r="1.8"/>
<circle cx="883.1" cy="1933.8" r="1.3"/>
<circle cx="506.8" cy="1936.3" r="7.2"/>
<circle cx="855.8" cy="1972.6" r="1.3"/>
<circle cx="817" cy="1974.6" r="1.3"/>
<circle cx="811.4" cy="1979.5" r="2.5"/>
<circle cx="817.7" cy="1980.2" r="1.3"/>
<circle cx="762.1" cy="1982.6" r="3.2"/>
<circle cx="895.8" cy="1986.3" r="1.6"/>
<circle cx="775.3" cy="1987.3" r="1.3"/>
<circle cx="793.8" cy="1998.3" r="1.3"/>
<circle cx="684.5" cy="2004.9" r="1.3"/>
<circle cx="748.2" cy="2016.6" r="1.6"/>
<circle cx="837" cy="2017.1" r="3.9"/>
<circle cx="616.2" cy="2017.3" r="1.8"/>
<circle cx="692.3" cy="2019.3" r="2.3"/>
<circle cx="596.1" cy="2020.7" r="2.0"/>
<circle cx="860.4" cy="2021.2" r="1.6"/>
<circle cx="793.3" cy="2021.4" r="1.1"/>
<circle cx="731.3" cy="2024.1" r="2.3"/>
<circle cx="775.7" cy="2027.1" r="1.1"/>
<circle cx="882.4" cy="2029" r="1.3"/>
<circle cx="609.1" cy="2033.9" r="1.6"/>
<circle cx="713" cy="2036.1" r="1.8"/>
<circle cx="719.1" cy="2035.6" r="1.6"/>
<circle cx="788.7" cy="2036.3" r="2.5"/>
<circle cx="745.2" cy="2036.6" r="1.1"/>
<circle cx="742.3" cy="2038.8" r="1.1"/>
<circle cx="889.7" cy="2038" r="2.3"/>
<circle cx="796.7" cy="2039.3" r="1.3"/>
<circle cx="806" cy="2037.6" r="1.1"/>
<circle cx="681.1" cy="2040.7" r="1.6"/>
<circle cx="738.7" cy="2042.2" r="1.8"/>
<circle cx="816.3" cy="2046.6" r="1.6"/>
<circle cx="750.6" cy="2048.8" r="1.3"/>
<circle cx="726.9" cy="2048.3" r="1.3"/>
<circle cx="675" cy="2048.5" r="1.3"/>
<circle cx="698.9" cy="2049.8" r="1.3"/>
<circle cx="716.7" cy="2050.2" r="2.0"/>
<circle cx="714.3" cy="2051.5" r="1.3"/>
<circle cx="722.8" cy="2051.7" r="2.3"/>
<circle cx="895.3" cy="2051.7" r="1.1"/>
<circle cx="606.6" cy="2055.9" r="1.6"/>
<circle cx="734.5" cy="2054.4" r="1.8"/>
<circle cx="818" cy="2054.4" r="1.1"/>
<circle cx="880.9" cy="2054.1" r="1.6"/>
<circle cx="727.9" cy="2058.5" r="1.3"/>
<circle cx="775.3" cy="2058.8" r="1.8"/>
<circle cx="883.6" cy="2059" r="1.1"/>
<circle cx="612" cy="2061.2" r="2.0"/>
<circle cx="649.3" cy="2062" r="2.7"/>
<circle cx="685.5" cy="2060.7" r="1.3"/>
<circle cx="680.1" cy="2062.7" r="1.6"/>
<circle cx="714.7" cy="2060.5" r="1.1"/>
<circle cx="743.3" cy="2061" r="1.3"/>
<circle cx="781.1" cy="2061.5" r="2.0"/>
<circle cx="784.8" cy="2061.7" r="1.1"/>
<circle cx="792.8" cy="2060" r="1.1"/>
<circle cx="688.6" cy="2063.7" r="1.3"/>
<circle cx="698.9" cy="2063.2" r="1.1"/>
<circle cx="701.6" cy="2063.2" r="1.1"/>
<circle cx="602.5" cy="2065.9" r="2.3"/>
<circle cx="777.7" cy="2066.1" r="1.3"/>
<circle cx="792.8" cy="2065.6" r="1.1"/>
<circle cx="714.7" cy="2066.1" r="1.1"/>
<circle cx="678.1" cy="2067.6" r="1.8"/>
<circle cx="682" cy="2068.1" r="1.1"/>
<circle cx="685.5" cy="2068.5" r="1.3"/>
<circle cx="695.9" cy="2067.6" r="2.0"/>
<circle cx="701.6" cy="2067.8" r="2.3"/>
<circle cx="706.9" cy="2068.5" r="1.6"/>
<circle cx="870.7" cy="2068.5" r="3.0"/>
<circle cx="642.8" cy="2067.3" r="1.1"/>
<circle cx="641" cy="2070.3" r="1.8"/>
<circle cx="628.6" cy="2072.4" r="3.5"/>
<circle cx="609.1" cy="2071.7" r="1.3"/>
<circle cx="614.2" cy="2070.5" r="1.1"/>
<circle cx="594.4" cy="2071" r="1.1"/>
<circle cx="659.8" cy="2072.2" r="2.3"/>
<circle cx="668.6" cy="2072.7" r="2.3"/>
<circle cx="687.4" cy="2072" r="2.0"/>
<circle cx="712.3" cy="2071.5" r="1.3"/>
<circle cx="720.4" cy="2071.7" r="1.1"/>
</g>
<g fill="#a84e3e" stroke="#8a2d26" stroke-width="0.7">
<circle cx="263.5" cy="1898.2" r="1.1"/>
<circle cx="123.7" cy="1986.8" r="2.0"/>
<circle cx="274" cy="2004.4" r="2.3"/>
<circle cx="278.2" cy="2012.4" r="2.0"/>
<circle cx="270.1" cy="2025.6" r="1.8"/>
<circle cx="178.4" cy="2028.3" r="2.0"/>
<circle cx="433.8" cy="2030.5" r="1.6"/>
<circle cx="285.5" cy="2039" r="1.8"/>
<circle cx="257.4" cy="2041.7" r="1.6"/>
<circle cx="432.9" cy="2048.8" r="1.6"/>
<circle cx="458.5" cy="2048.3" r="1.1"/>
<circle cx="452.9" cy="2051.5" r="2.7"/>
<circle cx="482.4" cy="2050.7" r="3.9"/>
<circle cx="280.4" cy="2056.6" r="1.3"/>
<circle cx="185.7" cy="2059" r="1.6"/>
<circle cx="271.3" cy="2059.5" r="1.6"/>
<circle cx="175.9" cy="2062.7" r="1.6"/>
<circle cx="198.8" cy="2062.7" r="3.7"/>
<circle cx="242.8" cy="2062.2" r="3.9"/>
<circle cx="357.7" cy="2060.5" r="8.2"/>
<circle cx="166.1" cy="2067.3" r="2.0"/>
<circle cx="183.2" cy="2067.3" r="1.1"/>
<circle cx="263.3" cy="2067.3" r="1.3"/>
<circle cx="256.7" cy="2066.8" r="1.1"/>
<circle cx="118.6" cy="2073.7" r="1.8"/>
<circle cx="104.4" cy="2075.6" r="1.6"/>
<circle cx="108.8" cy="2075.4" r="1.3"/>
<circle cx="113.7" cy="2074.9" r="1.3"/>
<circle cx="123.9" cy="2074.4" r="1.3"/>
<circle cx="132.2" cy="2075.4" r="2.5"/>
<circle cx="138.1" cy="2074.4" r="1.3"/>
<circle cx="144.2" cy="2074.9" r="2.0"/>
<circle cx="151.8" cy="2074.6" r="1.3"/>
<circle cx="157.6" cy="2074.2" r="1.6"/>
<circle cx="163.2" cy="2074.4" r="1.3"/>
<circle cx="169.8" cy="2073.4" r="1.3"/>
<circle cx="178.1" cy="2072.9" r="1.6"/>
<circle cx="187.6" cy="2073.4" r="1.6"/>
<circle cx="207.4" cy="2074.6" r="1.1"/>
<circle cx="219.3" cy="2075.4" r="3.5"/>
<circle cx="254.5" cy="2073.4" r="1.1"/>
<circle cx="260.3" cy="2074.9" r="2.0"/>
<circle cx="266.4" cy="2071.5" r="1.8"/>
<circle cx="282.5" cy="2075.1" r="1.8"/>
<circle cx="255.2" cy="2069.8" r="1.1"/>
<circle cx="439.5" cy="2068.5" r="3.0"/>
<circle cx="445.6" cy="2067.3" r="1.3"/>
<circle cx="446.8" cy="2069.8" r="1.1"/>
<circle cx="429.7" cy="2071" r="1.3"/>
<circle cx="459.2" cy="2067.3" r="1.3"/>
<circle cx="459.2" cy="2072.2" r="1.1"/>
<circle cx="465.6" cy="2072.9" r="2.7"/>
<circle cx="430.9" cy="2060.7" r="1.1"/>
<circle cx="448" cy="2058.8" r="1.1"/>
<circle cx="496.1" cy="2058.8" r="1.6"/>
<circle cx="841.4" cy="1817.7" r="4.2"/>
<circle cx="877.7" cy="1841.6" r="1.1"/>
<circle cx="820.9" cy="1855.8" r="2.5"/>
<circle cx="814.3" cy="1858" r="1.3"/>
<circle cx="824.5" cy="1868.4" r="1.3"/>
<circle cx="875.1" cy="1886.7" r="1.6"/>
<circle cx="886" cy="1898.5" r="1.3"/>
<circle cx="883.6" cy="1902.9" r="1.6"/>
<circle cx="578.1" cy="1905.5" r="2.7"/>
<circle cx="895.3" cy="1916" r="1.3"/>
<circle cx="784.5" cy="1923.8" r="3.2"/>
<circle cx="542" cy="1937.5" r="2.3"/>
<circle cx="746.5" cy="1944.8" r="1.6"/>
<circle cx="872.9" cy="1951.4" r="2.3"/>
<circle cx="812.1" cy="1953.9" r="1.3"/>
<circle cx="801.1" cy="1965.6" r="1.3"/>
<circle cx="877.7" cy="1970.7" r="1.1"/>
<circle cx="792.1" cy="1981.9" r="1.8"/>
<circle cx="896" cy="1981.7" r="1.6"/>
<circle cx="770.9" cy="1990.2" r="1.1"/>
<circle cx="890.7" cy="1991.4" r="2.7"/>
<circle cx="817.5" cy="1995.8" r="1.3"/>
<circle cx="815" cy="1997.5" r="1.6"/>
<circle cx="876.5" cy="2000.2" r="2.0"/>
<circle cx="800.9" cy="2002.9" r="1.1"/>
<circle cx="528.8" cy="2005.1" r="2.3"/>
<circle cx="565.2" cy="2006.8" r="1.6"/>
<circle cx="816" cy="2008.8" r="1.6"/>
<circle cx="564.2" cy="2011.9" r="1.3"/>
<circle cx="743.8" cy="2012.4" r="1.8"/>
<circle cx="806" cy="2014.1" r="2.5"/>
<circle cx="802.6" cy="2014.9" r="1.1"/>
<circle cx="762.1" cy="2017.5" r="2.3"/>
<circle cx="561.2" cy="2022.2" r="2.3"/>
<circle cx="751.3" cy="2023.4" r="1.6"/>
<circle cx="767.2" cy="2023.9" r="1.6"/>
<circle cx="769.6" cy="2024.6" r="1.1"/>
<circle cx="801.4" cy="2023.9" r="1.1"/>
<circle cx="895.3" cy="2025.8" r="1.1"/>
<circle cx="802.6" cy="2032.4" r="1.1"/>
<circle cx="806" cy="2031.9" r="1.1"/>
<circle cx="885.1" cy="2033.6" r="1.8"/>
<circle cx="594.7" cy="2033.9" r="1.3"/>
<circle cx="666.4" cy="2035.1" r="7.9"/>
<circle cx="755" cy="2035.6" r="2.3"/>
<circle cx="811.9" cy="2038.5" r="1.6"/>
<circle cx="558.1" cy="2043.4" r="1.1"/>
<circle cx="585.4" cy="2047.3" r="1.3"/>
<circle cx="774" cy="2046.8" r="2.5"/>
<circle cx="769.6" cy="2048.5" r="1.6"/>
<circle cx="795.3" cy="2049.3" r="2.0"/>
<circle cx="858.2" cy="2051" r="1.1"/>
<circle cx="746.9" cy="2052.7" r="1.6"/>
<circle cx="534.2" cy="2054.4" r="2.3"/>
<circle cx="550.5" cy="2055.6" r="3.0"/>
<circle cx="758.7" cy="2053.9" r="1.3"/>
<circle cx="813.3" cy="2052.4" r="1.1"/>
<circle cx="884.6" cy="2053.4" r="1.1"/>
<circle cx="801.9" cy="2055.6" r="1.8"/>
<circle cx="770.4" cy="2056.3" r="1.3"/>
<circle cx="792.8" cy="2057.6" r="1.3"/>
<circle cx="752.1" cy="2059.3" r="1.3"/>
<circle cx="746.9" cy="2062" r="1.6"/>
<circle cx="752.6" cy="2062" r="1.1"/>
<circle cx="759.9" cy="2061.2" r="1.1"/>
<circle cx="768.2" cy="2062" r="1.6"/>
<circle cx="584.2" cy="2062.4" r="2.3"/>
<circle cx="880.2" cy="2064.4" r="2.3"/>
<circle cx="590.3" cy="2065.4" r="2.7"/>
<circle cx="584.4" cy="2065.1" r="1.8"/>
<circle cx="572.5" cy="2065.6" r="1.1"/>
<circle cx="538.1" cy="2066.3" r="2.0"/>
<circle cx="558.1" cy="2065.6" r="1.1"/>
<circle cx="752.1" cy="2065.1" r="1.3"/>
<circle cx="742.3" cy="2066.1" r="1.6"/>
<circle cx="765.3" cy="2067.1" r="1.8"/>
<circle cx="771.1" cy="2066.6" r="1.1"/>
<circle cx="739.1" cy="2068.1" r="1.6"/>
<circle cx="745.2" cy="2069" r="1.8"/>
<circle cx="748.9" cy="2069.3" r="2.0"/>
<circle cx="816.7" cy="2067.6" r="1.3"/>
<circle cx="812.6" cy="2069" r="1.3"/>
<circle cx="864.6" cy="2068.3" r="3.2"/>
<circle cx="799.2" cy="2069.8" r="2.3"/>
<circle cx="569.1" cy="2070.3" r="2.5"/>
<circle cx="573.2" cy="2069.3" r="1.1"/>
<circle cx="557.8" cy="2071" r="1.6"/>
<circle cx="526.4" cy="2070.7" r="1.1"/>
<circle cx="512.7" cy="2071.7" r="4.2"/>
<circle cx="738.4" cy="2071" r="1.1"/>
<circle cx="744" cy="2071.5" r="1.3"/>
<circle cx="766" cy="2068.5" r="1.0"/>
<circle cx="810.6" cy="1508.4" r="1.8"/>
</g>
<path d="M885.1 2075.4H103.5" stroke="#5f8bcb" stroke-width="2" stroke-dasharray="7.8 7.62" stroke-dashoffset="0" fill="none"/>
<path d="M885.1 2075.1H103.5" stroke="#8c2424" stroke-width="2" stroke-dasharray="7.8 7.62" stroke-dashoffset="0" fill="none"/>
<path d="M103.5 2075.6L896.8 2048.3" stroke="#5f8bcb" stroke-width="3.4" fill="none"/>
<path d="M103.5 2075.4L896.8 2036.3" stroke="#8c2424" stroke-width="3.4" fill="none"/>
<rect x="65.4" y="1480.8" width="869.7" height="626.7" fill="none" stroke="#222" stroke-width="1.6"/>
<path d="M60.8 2078.6H64.9M60.8 1871.1H64.9M60.8 1663.6H64.9M103.5 2108V2112.1M301.8 2108V2112.1M500.1 2108V2112.1M698.5 2108V2112.1M896.8 2108V2112.1" stroke="#333" stroke-width="2.4" fill="none"/>
<g font-size="13.7" fill="#404040">
<text x="55.1" y="2082.4" text-anchor="end">0</text>
<text x="57.4" y="1874.9" text-anchor="end">50</text>
<text x="59.7" y="1667.4" text-anchor="end">100</text>
<text x="106.8" y="2126.4" text-anchor="middle">0.00</text>
<text x="305.1" y="2126.4" text-anchor="middle">0.25</text>
<text x="503.4" y="2126.4" text-anchor="middle">0.50</text>
<text x="701.8" y="2126.4" text-anchor="middle">0.75</text>
<text x="900.1" y="2126.4" text-anchor="middle">1.00</text>
</g>
<text x="447.9" y="1473.3" font-family="'Liberation Serif', serif" font-weight="bold" font-size="23.5" textLength="118.9" lengthAdjust="spacing" fill="#000">Other drug</text>
<text x="428.2" y="2145.6" font-size="18.3" textLength="171.7" lengthAdjust="spacingAndGlyphs" fill="#000">Relative rank by SDI</text>
<text transform="translate(19.8 2050) rotate(-90)" font-size="18.3" textLength="473.3" lengthAdjust="spacingAndGlyphs" fill="#000">DALYs (Disability−Adjusted Life Years) rate (per 100,000)</text>
</g>
<g id="legend">
<text x="1155.7" y="1598.6" font-size="24.6" fill="#000">year</text>
<rect x="1154.9" y="1614.9" width="39.3" height="38.9" fill="#e9eef9"/>
<rect x="1154.9" y="1653.8" width="39.3" height="38.9" fill="#f1e2db"/>
<path d="M1158.7 1634.3H1190" stroke="#5f8bcb" stroke-width="2.6"/>
<circle cx="1174.4" cy="1634.3" r="5" fill="#7ba0da"/>
<path d="M1158.7 1673.2H1190" stroke="#8c2424" stroke-width="2.6"/>
<circle cx="1174.4" cy="1673.2" r="5" fill="#a84e3e"/>
<text x="1207.6" y="1641.4" font-size="20.5" fill="#000">1990</text>
<text x="1207.6" y="1680.4" font-size="20.5" fill="#000">2021</text>
<text x="1155.7" y="1763.2" font-size="24.6" fill="#000">Population</text>
<text x="1155.7" y="1789.8" font-size="24.6" fill="#000">(million)</text>
<circle cx="1174.4" cy="1825.2" r="6.2" fill="none" stroke="#111" stroke-width="1.9"/>
<text x="1207" y="1832.3" font-size="20.5" fill="#000">200</text>
<circle cx="1174.4" cy="1864.2" r="8.5" fill="none" stroke="#111" stroke-width="1.9"/>
<text x="1207" y="1871.3" font-size="20.5" fill="#000">400</text>
<circle cx="1174.4" cy="1903.3" r="10.3" fill="none" stroke="#111" stroke-width="1.9"/>
<text x="1207" y="1910.4" font-size="20.5" fill="#000">600</text>
<circle cx="1174.4" cy="1942.5" r="11.6" fill="none" stroke="#111" stroke-width="1.9"/>
<text x="1207" y="1949.6" font-size="20.5" fill="#000">800</text>
<circle cx="1174.4" cy="1981.6" r="12.8" fill="none" stroke="#111" stroke-width="1.9"/>
<text x="1207" y="1988.7" font-size="20.5" fill="#000">1000</text>
<circle cx="1174.4" cy="2020.8" r="13.9" fill="none" stroke="#111" stroke-width="1.9"/>
<text x="1207" y="2027.9" font-size="20.5" fill="#000">1200</text>
</g>
</svg></body></html>
